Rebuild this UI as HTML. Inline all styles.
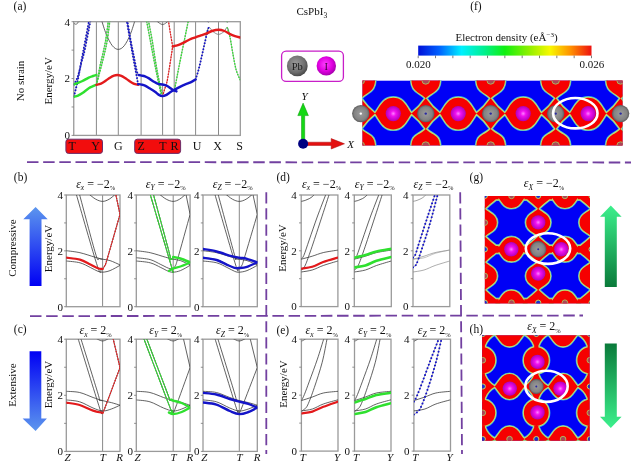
<!DOCTYPE html>
<html><head><meta charset="utf-8"><title>CsPbI3 strain band structure</title>
<style>html,body{margin:0;padding:0;background:#fff;width:640px;height:465px;overflow:hidden}svg{display:block}</style>
</head><body>
<svg width="640" height="465" viewBox="0 0 640 465" font-family="&quot;Liberation Serif&quot;, serif" fill="#111">
<rect width="640" height="465" fill="#fff"/>
<text x="13.6" y="9.9" font-size="11.5" text-anchor="start"  >(a)</text>
<text transform="translate(24.3 81) rotate(-90)" font-size="11" text-anchor="middle">No strain</text>
<text transform="translate(51.8 80.8) rotate(-90)" font-size="11" text-anchor="middle">Energy/eV</text>
<line x1="96.4" y1="21.7" x2="96.4" y2="135.4" stroke="#6a6a6a" stroke-width="0.8"/>
<line x1="118.3" y1="21.7" x2="118.3" y2="135.4" stroke="#6a6a6a" stroke-width="0.8"/>
<line x1="141.1" y1="21.7" x2="141.1" y2="135.4" stroke="#6a6a6a" stroke-width="0.8"/>
<line x1="162.6" y1="21.7" x2="162.6" y2="135.4" stroke="#6a6a6a" stroke-width="0.8"/>
<line x1="174.2" y1="21.7" x2="174.2" y2="135.4" stroke="#6a6a6a" stroke-width="0.8"/>
<line x1="195.6" y1="21.7" x2="195.6" y2="135.4" stroke="#6a6a6a" stroke-width="0.8"/>
<line x1="218.5" y1="21.7" x2="218.5" y2="135.4" stroke="#6a6a6a" stroke-width="0.8"/>
<rect x="73.75" y="21.7" width="166.55" height="113.7" fill="none" stroke="#9a9a9a" stroke-width="1.3"/>
<line x1="71.55" y1="135.4" x2="73.75" y2="135.4" stroke="#777" stroke-width="0.8"/>
<line x1="71.55" y1="106.98" x2="73.75" y2="106.98" stroke="#777" stroke-width="0.8"/>
<line x1="71.55" y1="78.55" x2="73.75" y2="78.55" stroke="#777" stroke-width="0.8"/>
<line x1="71.55" y1="50.12" x2="73.75" y2="50.12" stroke="#777" stroke-width="0.8"/>
<line x1="71.55" y1="21.7" x2="73.75" y2="21.7" stroke="#777" stroke-width="0.8"/>
<text x="70" y="139.2" font-size="11" text-anchor="end"  >0</text>
<text x="70" y="82.35" font-size="11" text-anchor="end"  >2</text>
<text x="70" y="25.5" font-size="11" text-anchor="end"  >4</text>
<clipPath id="ca"><rect x="73.75" y="21.7" width="166.55" height="113.7"/></clipPath>
<g clip-path="url(#ca)">
<path d="M73.75 23.2C74.16 23.37 75.24 24.57 76.2 24.2C77.16 23.83 78.95 21.53 79.5 21" fill="none" stroke="#3a3a3a" stroke-width="0.7" />
<path d="M156.6 21C157.6 21.6 160.63 24.6 162.6 24.6C164.57 24.6 167.43 21.6 168.4 21" fill="none" stroke="#3a3a3a" stroke-width="0.7" />
<path d="M101.3 19.34C102.13 21.86 104.47 30.04 106.3 34.42C108.13 38.81 110.3 43.16 112.3 45.66C114.3 48.15 116.3 49.4 118.3 49.4C120.3 49.4 122.3 48.15 124.3 45.66C126.3 43.16 128.47 38.81 130.3 34.42C132.13 30.04 134.47 21.86 135.3 19.34" fill="none" stroke="#3a3a3a" stroke-width="0.8" />
<path d="M205.5 36.5C206.03 34.98 207.45 28.22 208.7 27.4C209.95 26.58 211.37 30.43 213 31.6C214.63 32.77 216.67 34.4 218.5 34.4C220.33 34.4 222.55 32.77 224 31.6C225.45 30.43 226.28 27 227.2 27.4C228.12 27.8 229.12 32.9 229.5 34" fill="none" stroke="#707070" stroke-width="0.8" />
<path d="M73.9 96.3C74.42 94.25 75.93 88.88 77 84C78.07 79.12 79.22 72.67 80.3 67C81.38 61.33 82.03 57.75 83.5 50C84.97 42.25 88.17 25.42 89.1 20.5" fill="none" stroke="#888" stroke-width="0.7" />
<path d="M73.9 96.3C74.42 94.25 75.93 88.88 77 84C78.07 79.12 79.22 72.67 80.3 67C81.38 61.33 82.03 57.75 83.5 50C84.97 42.25 88.17 25.42 89.1 20.5" fill="none" stroke="#1414c8" stroke-width="2.0" stroke-linecap="round" stroke-dasharray="0.01 3.1"/>
<path d="M73.9 84.4C74.28 83.75 75.45 82.15 76.2 80.5C76.95 78.85 77.52 77.58 78.4 74.5C79.28 71.42 80.45 66.08 81.5 62C82.55 57.92 83.2 56.92 84.7 50C86.2 43.08 89.53 25.42 90.5 20.5" fill="none" stroke="#888" stroke-width="0.7" />
<path d="M73.9 84.4C74.28 83.75 75.45 82.15 76.2 80.5C76.95 78.85 77.52 77.58 78.4 74.5C79.28 71.42 80.45 66.08 81.5 62C82.55 57.92 83.2 56.92 84.7 50C86.2 43.08 89.53 25.42 90.5 20.5" fill="none" stroke="#1414c8" stroke-width="2.0" stroke-linecap="round" stroke-dasharray="0.01 3.1"/>
<path d="M96.4 85C96.83 83.33 98.08 78.5 99 75C99.92 71.5 100.97 67.67 101.9 64C102.83 60.33 103.7 57 104.6 53C105.5 49 106.42 45.42 107.3 40C108.18 34.58 109.47 23.75 109.9 20.5" fill="none" stroke="#888" stroke-width="0.7" />
<path d="M96.4 85C96.83 83.33 98.08 78.5 99 75C99.92 71.5 100.97 67.67 101.9 64C102.83 60.33 103.7 57 104.6 53C105.5 49 106.42 45.42 107.3 40C108.18 34.58 109.47 23.75 109.9 20.5" fill="none" stroke="#2fe02f" stroke-width="1.4" stroke-dasharray="1.6 1.2"/>
<path d="M96.4 85C96.68 83.5 97.43 79.5 98.1 76C98.77 72.5 99.58 67.83 100.4 64C101.22 60.17 102.12 57 103 53C103.88 49 104.8 45.42 105.7 40C106.6 34.58 107.95 23.75 108.4 20.5" fill="none" stroke="#888" stroke-width="0.7" />
<path d="M96.4 85C96.68 83.5 97.43 79.5 98.1 76C98.77 72.5 99.58 67.83 100.4 64C101.22 60.17 102.12 57 103 53C103.88 49 104.8 45.42 105.7 40C106.6 34.58 107.95 23.75 108.4 20.5" fill="none" stroke="#2fe02f" stroke-width="1.4" stroke-dasharray="1.6 1.2"/>
<path d="M138.1 84.1C137.42 80.42 135.33 69.35 134 62C132.67 54.65 131.3 46.92 130.1 40C128.9 33.08 127.35 23.75 126.8 20.5" fill="none" stroke="#888" stroke-width="0.7" />
<path d="M138.1 84.1C137.42 80.42 135.33 69.35 134 62C132.67 54.65 131.3 46.92 130.1 40C128.9 33.08 127.35 23.75 126.8 20.5" fill="none" stroke="#1414c8" stroke-width="2.0" stroke-linecap="round" stroke-dasharray="0.01 3.1"/>
<path d="M138.7 75C138.43 74.55 137.92 75.47 137.1 72.3C136.28 69.13 134.88 61.38 133.8 56C132.72 50.62 131.67 45.75 130.6 40C129.53 34.25 127.97 24.75 127.4 21.5C126.83 18.25 127.23 20.67 127.2 20.5" fill="none" stroke="#888" stroke-width="0.7" />
<path d="M138.7 75C138.43 74.55 137.92 75.47 137.1 72.3C136.28 69.13 134.88 61.38 133.8 56C132.72 50.62 131.67 45.75 130.6 40C129.53 34.25 127.97 24.75 127.4 21.5C126.83 18.25 127.23 20.67 127.2 20.5" fill="none" stroke="#1414c8" stroke-width="2.0" stroke-linecap="round" stroke-dasharray="0.01 3.1"/>
<path d="M162.4 96.2C161.5 91.83 158.72 79.37 157 70C155.28 60.63 153.53 48.25 152.1 40C150.67 31.75 149.02 23.75 148.4 20.5" fill="none" stroke="#888" stroke-width="0.7" />
<path d="M162.4 96.2C161.5 91.83 158.72 79.37 157 70C155.28 60.63 153.53 48.25 152.1 40C150.67 31.75 149.02 23.75 148.4 20.5" fill="none" stroke="#2fe02f" stroke-width="1.4" stroke-dasharray="1.6 1.2"/>
<path d="M161.1 94.2C160.17 89.83 157.32 77.03 155.5 68C153.68 58.97 151.7 47.92 150.2 40C148.7 32.08 147.12 23.75 146.5 20.5" fill="none" stroke="#888" stroke-width="0.7" />
<path d="M161.1 94.2C160.17 89.83 157.32 77.03 155.5 68C153.68 58.97 151.7 47.92 150.2 40C148.7 32.08 147.12 23.75 146.5 20.5" fill="none" stroke="#2fe02f" stroke-width="1.4" stroke-dasharray="1.6 1.2"/>
<path d="M162.4 96.6C162.83 95.17 164.13 90.98 165 88C165.87 85.02 166.32 85.62 167.6 78.7C168.88 71.78 171.85 51.87 172.7 46.5" fill="none" stroke="#b55" stroke-width="0.6" />
<path d="M162.4 96.6C162.83 95.17 164.13 90.98 165 88C165.87 85.02 166.32 85.62 167.6 78.7C168.88 71.78 171.85 51.87 172.7 46.5" fill="none" stroke="#e31a1c" stroke-width="1.2" stroke-dasharray="1.8 1"/>
<path d="M172.7 46.5C172.33 44.42 171.22 38.33 170.5 34C169.78 29.67 168.75 22.75 168.4 20.5" fill="none" stroke="#b55" stroke-width="0.6" />
<path d="M172.7 46.5C172.33 44.42 171.22 38.33 170.5 34C169.78 29.67 168.75 22.75 168.4 20.5" fill="none" stroke="#e31a1c" stroke-width="1.2" stroke-dasharray="1.8 1"/>
<path d="M174.7 89C175.5 84.83 177.88 72.17 179.5 64C181.12 55.83 182.92 47.25 184.4 40C185.88 32.75 187.73 23.75 188.4 20.5" fill="none" stroke="#888" stroke-width="0.7" />
<path d="M174.7 89C175.5 84.83 177.88 72.17 179.5 64C181.12 55.83 182.92 47.25 184.4 40C185.88 32.75 187.73 23.75 188.4 20.5" fill="none" stroke="#2fe02f" stroke-width="1.4" stroke-dasharray="1.6 1.2"/>
<path d="M195.6 79.4C196.08 77.83 197.52 73.65 198.5 70C199.48 66.35 200.5 61.83 201.5 57.5C202.5 53.17 203.55 48.17 204.5 44C205.45 39.83 206.5 35.27 207.2 32.5C207.9 29.73 208.45 28.25 208.7 27.4" fill="none" stroke="#888" stroke-width="0.7" />
<path d="M195.6 79.4C196.08 77.83 197.52 73.65 198.5 70C199.48 66.35 200.5 61.83 201.5 57.5C202.5 53.17 203.55 48.17 204.5 44C205.45 39.83 206.5 35.27 207.2 32.5C207.9 29.73 208.45 28.25 208.7 27.4" fill="none" stroke="#1414c8" stroke-width="2.0" stroke-linecap="round" stroke-dasharray="0.01 3.1"/>
<path d="M227.2 27.4C227.67 29.03 229.03 32.7 230 37.2C230.97 41.7 231.97 48.93 233 54.4C234.03 59.87 234.98 65.7 236.2 70C237.42 74.3 239.62 78.5 240.3 80.2" fill="none" stroke="#888" stroke-width="0.7" />
<path d="M227.2 27.4C227.67 29.03 229.03 32.7 230 37.2C230.97 41.7 231.97 48.93 233 54.4C234.03 59.87 234.98 65.7 236.2 70C237.42 74.3 239.62 78.5 240.3 80.2" fill="none" stroke="#2fe02f" stroke-width="1.4" stroke-dasharray="1.6 1.2"/>
<path d="M207.6 20.5L208.6 23" fill="none" stroke="#888" stroke-width="0.7" />
<path d="M207.6 20.5L208.6 23" fill="none" stroke="#1414c8" stroke-width="2.0" stroke-linecap="round" stroke-dasharray="0.01 3.1"/>
<path d="M226.6 20.5L227.6 23" fill="none" stroke="#888" stroke-width="0.7" />
<path d="M226.6 20.5L227.6 23" fill="none" stroke="#2fe02f" stroke-width="1.4" stroke-dasharray="1.6 1.2"/>
<path d="M73.75 84.4C74.46 84.15 76.54 83.47 78 82.9C79.46 82.33 80.71 81.88 82.5 81C84.29 80.12 87 78.43 88.75 77.6C90.5 76.77 91.72 76.45 93 76C94.28 75.55 95.83 75.08 96.4 74.9" fill="none" stroke="#2fe02f" stroke-width="2.4" stroke-linecap="round"/>
<path d="M73.75 96.9C74.46 96.68 76.54 96.23 78 95.6C79.46 94.97 80.71 94.32 82.5 93.1C84.29 91.88 87 89.45 88.75 88.3C90.5 87.15 91.72 86.79 93 86.2C94.28 85.61 95.83 84.99 96.4 84.75" fill="none" stroke="#2fe02f" stroke-width="2.4" stroke-linecap="round"/>
<path d="M96.4 84.8C97.17 84.61 99.4 84.39 101 83.67C102.6 82.96 104.5 81.53 106 80.52C107.5 79.52 108.67 78.49 110 77.67C111.33 76.84 112.78 76.03 114 75.59C115.22 75.15 116.2 75 117.3 75C118.4 75 119.38 75.15 120.6 75.59C121.82 76.03 123.27 76.84 124.6 77.67C125.93 78.49 127.1 79.52 128.6 80.52C130.1 81.53 132 82.96 133.6 83.67C135.2 84.39 137.43 84.61 138.2 84.8" fill="none" stroke="#e31a1c" stroke-width="2.4" stroke-linecap="round"/>
<path d="M138.7 75C139.17 75.1 140.45 75.37 141.5 75.6C142.55 75.83 143.75 75.93 145 76.4C146.25 76.87 147.5 77.5 149 78.4C150.5 79.3 152.5 80.88 154 81.8C155.5 82.72 156.6 83.45 158 83.9C159.4 84.35 160.9 84.18 162.4 84.5C163.9 84.82 165.65 85.18 167 85.8C168.35 86.42 169.42 87.45 170.5 88.2C171.58 88.95 172.5 89.77 173.5 90.3C174.5 90.83 176 91.22 176.5 91.4" fill="none" stroke="#1414c8" stroke-width="2.4" stroke-linecap="round"/>
<path d="M138.1 84.1C138.67 84.18 140.35 84.35 141.5 84.6C142.65 84.85 143.58 84.93 145 85.6C146.42 86.27 148.33 87.57 150 88.6C151.67 89.63 153.58 90.8 155 91.8C156.42 92.8 157.27 93.88 158.5 94.6C159.73 95.32 161.15 96 162.4 96.1C163.65 96.2 164.82 95.75 166 95.2C167.18 94.65 168.25 93.62 169.5 92.8C170.75 91.98 172 91.17 173.5 90.3C175 89.43 176.92 88.42 178.5 87.6C180.08 86.78 181.42 86.1 183 85.4C184.58 84.7 186.5 84.03 188 83.4C189.5 82.77 190.73 82.27 192 81.6C193.27 80.93 195 79.77 195.6 79.4" fill="none" stroke="#1414c8" stroke-width="2.4" stroke-linecap="round"/>
<path d="M172.7 46.5C173.25 46.35 174.78 45.95 176 45.6C177.22 45.25 178.33 45.1 180 44.4C181.67 43.7 184.17 42.32 186 41.4C187.83 40.48 189.4 39.58 191 38.9C192.6 38.22 193.93 37.9 195.6 37.3C197.27 36.7 199.15 35.95 201 35.3C202.85 34.65 204.87 34.12 206.7 33.4C208.53 32.68 210.03 31.62 212 31C213.97 30.38 216.42 29.7 218.5 29.7C220.58 29.7 222.67 30.3 224.5 31C226.33 31.7 227.75 33.03 229.5 33.9C231.25 34.77 233.2 35.6 235 36.2C236.8 36.8 239.42 37.28 240.3 37.5" fill="none" stroke="#e31a1c" stroke-width="2.4" stroke-linecap="round"/>
</g>
<rect x="65.9" y="139.2" width="36.6" height="14.2" rx="2.6" fill="#f20d0d" stroke="#6b2d6b" stroke-width="1"/>
<rect x="134.7" y="139.2" width="45.9" height="14.2" rx="2.6" fill="#f20d0d" stroke="#6b2d6b" stroke-width="1"/>
<text x="72.2" y="149.9" font-size="12" text-anchor="middle"  >T</text>
<text x="95.6" y="149.9" font-size="12" text-anchor="middle"  >Y</text>
<text x="118.3" y="149.9" font-size="12" text-anchor="middle"  >G</text>
<text x="141.2" y="149.9" font-size="12" text-anchor="middle"  >Z</text>
<text x="162.8" y="149.9" font-size="12" text-anchor="middle"  >T</text>
<text x="174.4" y="149.9" font-size="12" text-anchor="middle"  >R</text>
<text x="197" y="149.9" font-size="12" text-anchor="middle"  >U</text>
<text x="217.5" y="149.9" font-size="12" text-anchor="middle"  >X</text>
<text x="239.7" y="149.9" font-size="12" text-anchor="middle"  >S</text>
<text x="296.5" y="15.4" font-size="11" text-anchor="start"  >CsPbI<tspan font-size="7.5" dy="2.5">3</tspan></text>
<defs><radialGradient id="gpb" cx="0.42" cy="0.38" r="0.62"><stop offset="0" stop-color="#9a9a9a"/><stop offset="0.7" stop-color="#6e6e6e"/><stop offset="1" stop-color="#4a4a4a"/></radialGradient><radialGradient id="gi" cx="0.45" cy="0.42" r="0.6"><stop offset="0" stop-color="#ff40ff"/><stop offset="0.6" stop-color="#e000e0"/><stop offset="1" stop-color="#a000a8"/></radialGradient><radialGradient id="gpb2" cx="0.5" cy="0.5" r="0.5"><stop offset="0" stop-color="#9c9c9c"/><stop offset="0.75" stop-color="#828282"/><stop offset="1" stop-color="#5a5a5a"/></radialGradient><radialGradient id="gi2" cx="0.5" cy="0.5" r="0.5"><stop offset="0" stop-color="#ff80ff"/><stop offset="0.35" stop-color="#f010f0"/><stop offset="1" stop-color="#b000b8"/></radialGradient><linearGradient id="gcb" x1="0" y1="0" x2="1" y2="0"><stop offset="0" stop-color="#0010d8"/><stop offset="0.12" stop-color="#0060ff"/><stop offset="0.25" stop-color="#00f0ff"/><stop offset="0.38" stop-color="#00f090"/><stop offset="0.5" stop-color="#10f010"/><stop offset="0.64" stop-color="#90f000"/><stop offset="0.76" stop-color="#f8f800"/><stop offset="0.88" stop-color="#ff9000"/><stop offset="1" stop-color="#ee1010"/></linearGradient><linearGradient id="gup" x1="0" y1="1" x2="0" y2="0"><stop offset="0" stop-color="#0000f4"/><stop offset="1" stop-color="#5c96ee"/></linearGradient><linearGradient id="gdn" x1="0" y1="0" x2="0" y2="1"><stop offset="0" stop-color="#0000f4"/><stop offset="1" stop-color="#5c96ee"/></linearGradient><linearGradient id="ggu" x1="0" y1="1" x2="0" y2="0"><stop offset="0" stop-color="#0a7a3a"/><stop offset="1" stop-color="#3cf08c"/></linearGradient><linearGradient id="ggd" x1="0" y1="0" x2="0" y2="1"><stop offset="0" stop-color="#0a7a3a"/><stop offset="1" stop-color="#3cf08c"/></linearGradient></defs>
<rect x="281.6" y="51.1" width="61.8" height="30.3" rx="4.5" fill="none" stroke="#c81ec8" stroke-width="1.3"/>
<circle cx="297.3" cy="65.9" r="10.4" fill="url(#gpb)"/>
<text x="297.3" y="69.6" font-size="10.5" text-anchor="middle"  fill="#1a1a1a">Pb</text>
<circle cx="326.3" cy="65.9" r="9.7" fill="url(#gi)"/>
<text x="326.3" y="69.6" font-size="10.5" text-anchor="middle"  fill="#3a003a">I</text>
<path d="M301.5 143V115.6H297.8L303.1 103.1L308.4 115.6H304.7V143Z" fill="#14d814" stroke="#0a960a" stroke-width="0.5"/>
<path d="M304 142.2H331.2V138.6L344.5 143.8L331.2 149V145.4H304Z" fill="#e41010" stroke="#a80808" stroke-width="0.5"/>
<circle cx="303.1" cy="143.8" r="5" fill="#000080"/>
<text x="304.5" y="100" font-size="11" text-anchor="middle" font-style="italic" >Y</text>
<text x="350.7" y="147.6" font-size="11" text-anchor="middle" font-style="italic" >X</text>
<text x="470.2" y="10.2" font-size="11.5" text-anchor="start"  >(f)</text>
<text x="506.5" y="41.2" font-size="11" text-anchor="middle"  >Electron density (eÅ<tspan font-size="7" dy="-4">−3</tspan><tspan dy="4">)</tspan></text>
<rect x="418.2" y="45.6" width="173.3" height="10" fill="url(#gcb)"/>
<line x1="418.2" y1="55.6" x2="418.2" y2="58.2" stroke="#444" stroke-width="0.7"/>
<line x1="435.53" y1="55.6" x2="435.53" y2="58.2" stroke="#444" stroke-width="0.7"/>
<line x1="452.86" y1="55.6" x2="452.86" y2="58.2" stroke="#444" stroke-width="0.7"/>
<line x1="470.19" y1="55.6" x2="470.19" y2="58.2" stroke="#444" stroke-width="0.7"/>
<line x1="487.52" y1="55.6" x2="487.52" y2="58.2" stroke="#444" stroke-width="0.7"/>
<line x1="504.85" y1="55.6" x2="504.85" y2="58.2" stroke="#444" stroke-width="0.7"/>
<line x1="522.18" y1="55.6" x2="522.18" y2="58.2" stroke="#444" stroke-width="0.7"/>
<line x1="539.51" y1="55.6" x2="539.51" y2="58.2" stroke="#444" stroke-width="0.7"/>
<line x1="556.84" y1="55.6" x2="556.84" y2="58.2" stroke="#444" stroke-width="0.7"/>
<line x1="574.17" y1="55.6" x2="574.17" y2="58.2" stroke="#444" stroke-width="0.7"/>
<line x1="591.5" y1="55.6" x2="591.5" y2="58.2" stroke="#444" stroke-width="0.7"/>
<text x="418.3" y="68.4" font-size="11" text-anchor="middle"  >0.020</text>
<text x="591.8" y="68.4" font-size="11" text-anchor="middle"  >0.026</text>
<clipPath id="cf"><rect x="362.4" y="80.4" width="260.2" height="65.2"/></clipPath>
<g clip-path="url(#cf)">
<rect x="362.4" y="80.4" width="260.2" height="65.2" fill="#0000f6"/>
<path d="M309.93 113.6C313.93 109.6 316.83 97.8 328.33 97.8C339.83 97.8 342.73 109.6 346.73 113.6C342.73 117.6 339.83 129.4 328.33 129.4C316.83 129.4 313.93 117.6 309.93 113.6ZM374.87 113.6C378.87 109.6 381.77 97.8 393.27 97.8C404.77 97.8 407.67 109.6 411.67 113.6C407.67 117.6 404.77 129.4 393.27 129.4C381.77 129.4 378.87 117.6 374.87 113.6ZM439.82 113.6C443.82 109.6 446.72 97.8 458.22 97.8C469.72 97.8 472.62 109.6 476.62 113.6C472.62 117.6 469.72 129.4 458.22 129.4C446.72 129.4 443.82 117.6 439.82 113.6ZM504.77 113.6C508.77 109.6 511.67 97.8 523.17 97.8C534.67 97.8 537.57 109.6 541.57 113.6C537.57 117.6 534.67 129.4 523.17 129.4C511.67 129.4 508.77 117.6 504.77 113.6ZM569.72 113.6C573.72 109.6 576.62 97.8 588.12 97.8C599.62 97.8 602.52 109.6 606.52 113.6C602.52 117.6 599.62 129.4 588.12 129.4C576.62 129.4 573.72 117.6 569.72 113.6ZM346.5 113.6Q354.79 107.13 360.8 98.2L360.8 98.2Q366.81 107.13 375.1 113.6L375.1 113.6Q366.81 120.07 360.8 129L360.8 129Q354.79 120.07 346.5 113.6L346.5 113.6ZM346.4 77.4L375.2 77.4C375.2 92.4 368.3 90.8 360.8 98.3C353.3 90.8 346.4 92.4 346.4 77.4ZM375.2 148.6L346.4 148.6C346.4 133.6 353.3 136.4 360.8 128.9C368.3 136.4 375.2 133.6 375.2 148.6ZM411.45 113.6Q419.74 107.13 425.75 98.2L425.75 98.2Q431.76 107.13 440.05 113.6L440.05 113.6Q431.76 120.07 425.75 129L425.75 129Q419.74 120.07 411.45 113.6L411.45 113.6ZM411.35 77.4L440.15 77.4C440.15 92.4 433.25 90.8 425.75 98.3C418.25 90.8 411.35 92.4 411.35 77.4ZM440.15 148.6L411.35 148.6C411.35 133.6 418.25 136.4 425.75 128.9C433.25 136.4 440.15 133.6 440.15 148.6ZM476.4 113.6Q484.69 107.13 490.7 98.2L490.7 98.2Q496.71 107.13 505 113.6L505 113.6Q496.71 120.07 490.7 129L490.7 129Q484.69 120.07 476.4 113.6L476.4 113.6ZM476.3 77.4L505.1 77.4C505.1 92.4 498.2 90.8 490.7 98.3C483.2 90.8 476.3 92.4 476.3 77.4ZM505.1 148.6L476.3 148.6C476.3 133.6 483.2 136.4 490.7 128.9C498.2 136.4 505.1 133.6 505.1 148.6ZM541.35 113.6Q549.64 107.13 555.65 98.2L555.65 98.2Q561.66 107.13 569.95 113.6L569.95 113.6Q561.66 120.07 555.65 129L555.65 129Q549.64 120.07 541.35 113.6L541.35 113.6ZM541.25 77.4L570.05 77.4C570.05 92.4 563.15 90.8 555.65 98.3C548.15 90.8 541.25 92.4 541.25 77.4ZM570.05 148.6L541.25 148.6C541.25 133.6 548.15 136.4 555.65 128.9C563.15 136.4 570.05 133.6 570.05 148.6ZM606.3 113.6Q614.59 107.13 620.6 98.2L620.6 98.2Q626.61 107.13 634.9 113.6L634.9 113.6Q626.61 120.07 620.6 129L620.6 129Q614.59 120.07 606.3 113.6L606.3 113.6ZM606.2 77.4L635 77.4C635 92.4 628.1 90.8 620.6 98.3C613.1 90.8 606.2 92.4 606.2 77.4ZM635 148.6L606.2 148.6C606.2 133.6 613.1 136.4 620.6 128.9C628.1 136.4 635 133.6 635 148.6Z" fill="none" stroke="#3aa8e8" stroke-width="3.4" stroke-linejoin="round"/>
<path d="M309.93 113.6C313.93 109.6 316.83 97.8 328.33 97.8C339.83 97.8 342.73 109.6 346.73 113.6C342.73 117.6 339.83 129.4 328.33 129.4C316.83 129.4 313.93 117.6 309.93 113.6ZM374.87 113.6C378.87 109.6 381.77 97.8 393.27 97.8C404.77 97.8 407.67 109.6 411.67 113.6C407.67 117.6 404.77 129.4 393.27 129.4C381.77 129.4 378.87 117.6 374.87 113.6ZM439.82 113.6C443.82 109.6 446.72 97.8 458.22 97.8C469.72 97.8 472.62 109.6 476.62 113.6C472.62 117.6 469.72 129.4 458.22 129.4C446.72 129.4 443.82 117.6 439.82 113.6ZM504.77 113.6C508.77 109.6 511.67 97.8 523.17 97.8C534.67 97.8 537.57 109.6 541.57 113.6C537.57 117.6 534.67 129.4 523.17 129.4C511.67 129.4 508.77 117.6 504.77 113.6ZM569.72 113.6C573.72 109.6 576.62 97.8 588.12 97.8C599.62 97.8 602.52 109.6 606.52 113.6C602.52 117.6 599.62 129.4 588.12 129.4C576.62 129.4 573.72 117.6 569.72 113.6ZM346.5 113.6Q354.79 107.13 360.8 98.2L360.8 98.2Q366.81 107.13 375.1 113.6L375.1 113.6Q366.81 120.07 360.8 129L360.8 129Q354.79 120.07 346.5 113.6L346.5 113.6ZM346.4 77.4L375.2 77.4C375.2 92.4 368.3 90.8 360.8 98.3C353.3 90.8 346.4 92.4 346.4 77.4ZM375.2 148.6L346.4 148.6C346.4 133.6 353.3 136.4 360.8 128.9C368.3 136.4 375.2 133.6 375.2 148.6ZM411.45 113.6Q419.74 107.13 425.75 98.2L425.75 98.2Q431.76 107.13 440.05 113.6L440.05 113.6Q431.76 120.07 425.75 129L425.75 129Q419.74 120.07 411.45 113.6L411.45 113.6ZM411.35 77.4L440.15 77.4C440.15 92.4 433.25 90.8 425.75 98.3C418.25 90.8 411.35 92.4 411.35 77.4ZM440.15 148.6L411.35 148.6C411.35 133.6 418.25 136.4 425.75 128.9C433.25 136.4 440.15 133.6 440.15 148.6ZM476.4 113.6Q484.69 107.13 490.7 98.2L490.7 98.2Q496.71 107.13 505 113.6L505 113.6Q496.71 120.07 490.7 129L490.7 129Q484.69 120.07 476.4 113.6L476.4 113.6ZM476.3 77.4L505.1 77.4C505.1 92.4 498.2 90.8 490.7 98.3C483.2 90.8 476.3 92.4 476.3 77.4ZM505.1 148.6L476.3 148.6C476.3 133.6 483.2 136.4 490.7 128.9C498.2 136.4 505.1 133.6 505.1 148.6ZM541.35 113.6Q549.64 107.13 555.65 98.2L555.65 98.2Q561.66 107.13 569.95 113.6L569.95 113.6Q561.66 120.07 555.65 129L555.65 129Q549.64 120.07 541.35 113.6L541.35 113.6ZM541.25 77.4L570.05 77.4C570.05 92.4 563.15 90.8 555.65 98.3C548.15 90.8 541.25 92.4 541.25 77.4ZM570.05 148.6L541.25 148.6C541.25 133.6 548.15 136.4 555.65 128.9C563.15 136.4 570.05 133.6 570.05 148.6ZM606.3 113.6Q614.59 107.13 620.6 98.2L620.6 98.2Q626.61 107.13 634.9 113.6L634.9 113.6Q626.61 120.07 620.6 129L620.6 129Q614.59 120.07 606.3 113.6L606.3 113.6ZM606.2 77.4L635 77.4C635 92.4 628.1 90.8 620.6 98.3C613.1 90.8 606.2 92.4 606.2 77.4ZM635 148.6L606.2 148.6C606.2 133.6 613.1 136.4 620.6 128.9C628.1 136.4 635 133.6 635 148.6Z" fill="none" stroke="#b8e070" stroke-width="2.2" stroke-linejoin="round"/>
<path d="M309.93 113.6C313.93 109.6 316.83 97.8 328.33 97.8C339.83 97.8 342.73 109.6 346.73 113.6C342.73 117.6 339.83 129.4 328.33 129.4C316.83 129.4 313.93 117.6 309.93 113.6ZM374.87 113.6C378.87 109.6 381.77 97.8 393.27 97.8C404.77 97.8 407.67 109.6 411.67 113.6C407.67 117.6 404.77 129.4 393.27 129.4C381.77 129.4 378.87 117.6 374.87 113.6ZM439.82 113.6C443.82 109.6 446.72 97.8 458.22 97.8C469.72 97.8 472.62 109.6 476.62 113.6C472.62 117.6 469.72 129.4 458.22 129.4C446.72 129.4 443.82 117.6 439.82 113.6ZM504.77 113.6C508.77 109.6 511.67 97.8 523.17 97.8C534.67 97.8 537.57 109.6 541.57 113.6C537.57 117.6 534.67 129.4 523.17 129.4C511.67 129.4 508.77 117.6 504.77 113.6ZM569.72 113.6C573.72 109.6 576.62 97.8 588.12 97.8C599.62 97.8 602.52 109.6 606.52 113.6C602.52 117.6 599.62 129.4 588.12 129.4C576.62 129.4 573.72 117.6 569.72 113.6ZM346.5 113.6Q354.79 107.13 360.8 98.2L360.8 98.2Q366.81 107.13 375.1 113.6L375.1 113.6Q366.81 120.07 360.8 129L360.8 129Q354.79 120.07 346.5 113.6L346.5 113.6ZM346.4 77.4L375.2 77.4C375.2 92.4 368.3 90.8 360.8 98.3C353.3 90.8 346.4 92.4 346.4 77.4ZM375.2 148.6L346.4 148.6C346.4 133.6 353.3 136.4 360.8 128.9C368.3 136.4 375.2 133.6 375.2 148.6ZM411.45 113.6Q419.74 107.13 425.75 98.2L425.75 98.2Q431.76 107.13 440.05 113.6L440.05 113.6Q431.76 120.07 425.75 129L425.75 129Q419.74 120.07 411.45 113.6L411.45 113.6ZM411.35 77.4L440.15 77.4C440.15 92.4 433.25 90.8 425.75 98.3C418.25 90.8 411.35 92.4 411.35 77.4ZM440.15 148.6L411.35 148.6C411.35 133.6 418.25 136.4 425.75 128.9C433.25 136.4 440.15 133.6 440.15 148.6ZM476.4 113.6Q484.69 107.13 490.7 98.2L490.7 98.2Q496.71 107.13 505 113.6L505 113.6Q496.71 120.07 490.7 129L490.7 129Q484.69 120.07 476.4 113.6L476.4 113.6ZM476.3 77.4L505.1 77.4C505.1 92.4 498.2 90.8 490.7 98.3C483.2 90.8 476.3 92.4 476.3 77.4ZM505.1 148.6L476.3 148.6C476.3 133.6 483.2 136.4 490.7 128.9C498.2 136.4 505.1 133.6 505.1 148.6ZM541.35 113.6Q549.64 107.13 555.65 98.2L555.65 98.2Q561.66 107.13 569.95 113.6L569.95 113.6Q561.66 120.07 555.65 129L555.65 129Q549.64 120.07 541.35 113.6L541.35 113.6ZM541.25 77.4L570.05 77.4C570.05 92.4 563.15 90.8 555.65 98.3C548.15 90.8 541.25 92.4 541.25 77.4ZM570.05 148.6L541.25 148.6C541.25 133.6 548.15 136.4 555.65 128.9C563.15 136.4 570.05 133.6 570.05 148.6ZM606.3 113.6Q614.59 107.13 620.6 98.2L620.6 98.2Q626.61 107.13 634.9 113.6L634.9 113.6Q626.61 120.07 620.6 129L620.6 129Q614.59 120.07 606.3 113.6L606.3 113.6ZM606.2 77.4L635 77.4C635 92.4 628.1 90.8 620.6 98.3C613.1 90.8 606.2 92.4 606.2 77.4ZM635 148.6L606.2 148.6C606.2 133.6 613.1 136.4 620.6 128.9C628.1 136.4 635 133.6 635 148.6Z" fill="#f60000"/>
<circle cx="360.8" cy="80.4" r="3.8" fill="#a84858" stroke="#b0c060" stroke-width="0.9"/>
<circle cx="425.75" cy="80.4" r="3.8" fill="#a84858" stroke="#b0c060" stroke-width="0.9"/>
<circle cx="490.7" cy="80.4" r="3.8" fill="#a84858" stroke="#b0c060" stroke-width="0.9"/>
<circle cx="555.65" cy="80.4" r="3.8" fill="#a84858" stroke="#b0c060" stroke-width="0.9"/>
<circle cx="620.6" cy="80.4" r="3.8" fill="#a84858" stroke="#b0c060" stroke-width="0.9"/>
<circle cx="360.8" cy="145.6" r="3.8" fill="#a84858" stroke="#b0c060" stroke-width="0.9"/>
<circle cx="425.75" cy="145.6" r="3.8" fill="#a84858" stroke="#b0c060" stroke-width="0.9"/>
<circle cx="490.7" cy="145.6" r="3.8" fill="#a84858" stroke="#b0c060" stroke-width="0.9"/>
<circle cx="555.65" cy="145.6" r="3.8" fill="#a84858" stroke="#b0c060" stroke-width="0.9"/>
<circle cx="620.6" cy="145.6" r="3.8" fill="#a84858" stroke="#b0c060" stroke-width="0.9"/>
</g>
<circle cx="393.27" cy="113.6" r="7.6" fill="url(#gi2)"/>
<circle cx="458.22" cy="113.6" r="7.6" fill="url(#gi2)"/>
<circle cx="523.17" cy="113.6" r="7.6" fill="url(#gi2)"/>
<circle cx="588.12" cy="113.6" r="7.6" fill="url(#gi2)"/>
<circle cx="360.8" cy="113.6" r="8.7" fill="url(#gpb2)"/>
<circle cx="360.8" cy="113.6" r="1.2" fill="#fff"/>
<circle cx="425.75" cy="113.6" r="8.7" fill="url(#gpb2)"/>
<circle cx="425.75" cy="113.6" r="1.2" fill="#2a2aa0"/>
<circle cx="490.7" cy="113.6" r="8.7" fill="url(#gpb2)"/>
<circle cx="490.7" cy="113.6" r="1.2" fill="#2a2aa0"/>
<circle cx="555.65" cy="113.6" r="8.7" fill="url(#gpb2)"/>
<circle cx="555.65" cy="113.6" r="1.2" fill="#2a2aa0"/>
<circle cx="620.6" cy="113.6" r="8.7" fill="url(#gpb2)"/>
<circle cx="620.6" cy="113.6" r="1.2" fill="#2a2aa0"/>
<ellipse cx="575.3" cy="113.2" rx="22.2" ry="15.2" fill="none" stroke="#fff" stroke-width="2.6"/>
<line x1="27" y1="162.1" x2="631" y2="162.5" stroke="#7240a0" stroke-width="1.8" stroke-dasharray="11.5 4.66"/>
<line x1="30" y1="316.1" x2="583" y2="315.5" stroke="#7240a0" stroke-width="1.8" stroke-dasharray="11.5 4.66"/>
<line x1="266.3" y1="192.2" x2="266.3" y2="453.9" stroke="#7240a0" stroke-width="1.8" stroke-dasharray="11.2 4.92"/>
<line x1="460.2" y1="192.2" x2="462" y2="453.9" stroke="#7240a0" stroke-width="1.8" stroke-dasharray="11.2 4.92"/>
<text x="13.8" y="180.6" font-size="11.5" text-anchor="start"  >(b)</text>
<text x="13.8" y="333.2" font-size="11.5" text-anchor="start"  >(c)</text>
<text x="276.4" y="180.8" font-size="11.5" text-anchor="start"  >(d)</text>
<text x="276.4" y="333.6" font-size="11.5" text-anchor="start"  >(e)</text>
<text x="469.6" y="181.2" font-size="11.5" text-anchor="start"  >(g)</text>
<text x="469.6" y="333.4" font-size="11.5" text-anchor="start"  >(h)</text>
<text transform="translate(15.9 248) rotate(-90)" font-size="11" text-anchor="middle">Compressive</text>
<text transform="translate(15.9 385) rotate(-90)" font-size="11" text-anchor="middle">Extensive</text>
<text transform="translate(51.8 248.5) rotate(-90)" font-size="11" text-anchor="middle">Energy/eV</text>
<text transform="translate(51.8 384.5) rotate(-90)" font-size="11" text-anchor="middle">Energy/eV</text>
<text transform="translate(286.3 248) rotate(-90)" font-size="11" text-anchor="middle">Energy/eV</text>
<text transform="translate(286.8 384) rotate(-90)" font-size="11" text-anchor="middle">Energy/eV</text>
<path d="M29.6 286V219.2H23.3L35.6 206.9L47.7 219.2H41.5V286Z" fill="url(#gup)"/>
<path d="M29.6 351.3V418.4H22.6L35.6 431L46.9 418.4H41.3V351.3Z" fill="url(#gdn)"/>
<path d="M604.8 287V216.7H600L610.8 205.4L621.6 216.7H616.8V287Z" fill="url(#ggu)"/>
<path d="M604.8 343.4V416.7H600L610.8 428L621.6 416.7H616.8V343.4Z" fill="url(#ggd)"/>
<text x="95.65" y="187.6" font-size="12" text-anchor="middle"><tspan font-style="italic">ε</tspan><tspan font-size="7.5" font-style="italic" dy="2.5">x</tspan><tspan dy="-2.5"> = −2</tspan><tspan font-size="6.5" dy="2.5">%</tspan></text>
<text x="95.65" y="334.4" font-size="12" text-anchor="middle"><tspan font-style="italic">ε</tspan><tspan font-size="7.5" font-style="italic" dy="2.5">x</tspan><tspan dy="-2.5"> = 2</tspan><tspan font-size="6.5" dy="2.5">%</tspan></text>
<text x="165.7" y="187.6" font-size="12" text-anchor="middle"><tspan font-style="italic">ε</tspan><tspan font-size="7.5" font-style="italic" dy="2.5">Y</tspan><tspan dy="-2.5"> = −2</tspan><tspan font-size="6.5" dy="2.5">%</tspan></text>
<text x="165.7" y="334.4" font-size="12" text-anchor="middle"><tspan font-style="italic">ε</tspan><tspan font-size="7.5" font-style="italic" dy="2.5">Y</tspan><tspan dy="-2.5"> = 2</tspan><tspan font-size="6.5" dy="2.5">%</tspan></text>
<text x="232.65" y="187.6" font-size="12" text-anchor="middle"><tspan font-style="italic">ε</tspan><tspan font-size="7.5" font-style="italic" dy="2.5">Z</tspan><tspan dy="-2.5"> = −2</tspan><tspan font-size="6.5" dy="2.5">%</tspan></text>
<text x="232.65" y="334.4" font-size="12" text-anchor="middle"><tspan font-style="italic">ε</tspan><tspan font-size="7.5" font-style="italic" dy="2.5">Z</tspan><tspan dy="-2.5"> = 2</tspan><tspan font-size="6.5" dy="2.5">%</tspan></text>
<line x1="102.6" y1="195" x2="102.6" y2="306.7" stroke="#6a6a6a" stroke-width="0.8"/>
<rect x="66.3" y="195" width="53.7" height="111.7" fill="none" stroke="#9a9a9a" stroke-width="1.3"/>
<line x1="64.1" y1="306.7" x2="66.3" y2="306.7" stroke="#777" stroke-width="0.8"/>
<line x1="64.1" y1="278.77" x2="66.3" y2="278.77" stroke="#777" stroke-width="0.8"/>
<line x1="64.1" y1="250.85" x2="66.3" y2="250.85" stroke="#777" stroke-width="0.8"/>
<line x1="64.1" y1="222.93" x2="66.3" y2="222.93" stroke="#777" stroke-width="0.8"/>
<line x1="64.1" y1="195" x2="66.3" y2="195" stroke="#777" stroke-width="0.8"/>
<text x="62.9" y="310.5" font-size="11" text-anchor="end"  >0</text>
<text x="62.9" y="254.65" font-size="11" text-anchor="end"  >2</text>
<text x="62.9" y="198.8" font-size="11" text-anchor="end"  >4</text>
<clipPath id="cb0"><rect x="66.3" y="195" width="53.7" height="111.7"/></clipPath>
<g clip-path="url(#cb0)">
<path d="M88.79 194C89.95 194.87 93.44 197.97 95.75 199.2C98.05 200.43 100.36 201.4 102.6 201.4C104.84 201.4 107.01 200.43 109.19 199.2C111.37 197.97 114.6 194.87 115.68 194" fill="none" stroke="#3a3a3a" stroke-width="0.8" />
<path d="M76.2 194C79.74 206.03 93.23 253.72 97.43 266.2C101.63 278.68 100.54 268.4 101.4 268.9C102.26 269.4 102.4 269.15 102.6 269.2" fill="none" stroke="#3a3a3a" stroke-width="0.8" />
<path d="M79.4 194C82.11 204 92.38 243.27 95.66 254C98.94 264.73 97.94 257.53 99.1 258.4C100.26 259.27 102.02 259.07 102.6 259.2" fill="none" stroke="#3a3a3a" stroke-width="0.8" />
<path d="M66.3 250.7C68.58 251.03 75.17 251.62 79.95 252.7C84.74 253.78 91.22 256.12 95 257.2C98.77 258.28 100.09 258.63 102.6 259.2C105.11 259.77 107.16 259.65 110.06 260.6C112.96 261.55 118.34 264.18 120 264.9" fill="none" stroke="#3a3a3a" stroke-width="0.8" />
<path d="M66.3 261C68.58 261.3 75.94 261.72 79.95 262.8C83.97 263.88 87.4 266.08 90.39 267.5C93.38 268.92 95.85 270.52 97.89 271.3C99.92 272.08 100.57 272.32 102.6 272.2C104.63 272.08 107.16 271.73 110.06 270.6C112.96 269.47 118.34 266.27 120 265.4" fill="none" stroke="#3a3a3a" stroke-width="0.8" />
<path d="M66.3 257.7C68.58 258.02 75.94 258.47 79.95 259.6C83.97 260.73 87.4 263.07 90.39 264.5C93.38 265.93 95.85 267.45 97.89 268.2C99.92 268.95 101.81 268.87 102.6 269" fill="none" stroke="#3a3a3a" stroke-width="0.8" />
<path d="M102.6 269C102.98 268.42 104.13 267.08 104.87 265.5C105.61 263.92 104.51 268.02 107.03 259.5C109.55 250.98 117.84 221.92 120 214.4" fill="none" stroke="#3a3a3a" stroke-width="0.8" />
<path d="M120 214.4L115.68 194" fill="none" stroke="#3a3a3a" stroke-width="0.8" />
<path d="M66.3 257.7C68.58 258.02 75.94 258.47 79.95 259.6C83.97 260.73 87.4 263.07 90.39 264.5C93.38 265.93 95.85 267.45 97.89 268.2C99.92 268.95 101.81 268.87 102.6 269" fill="none" stroke="#e31a1c" stroke-width="2.2" stroke-linecap="round"/>
<path d="M102.6 269C102.98 268.42 104.13 267.08 104.87 265.5C105.61 263.92 104.51 268.02 107.03 259.5C109.55 250.98 117.84 221.92 120 214.4" fill="none" stroke="#c66" stroke-width="0.6" />
<path d="M102.6 269C102.98 268.42 104.13 267.08 104.87 265.5C105.61 263.92 104.51 268.02 107.03 259.5C109.55 250.98 117.84 221.92 120 214.4" fill="none" stroke="#e31a1c" stroke-width="1.2" stroke-dasharray="1.6 1.0"/>
<path d="M120 214.4L115.68 194" fill="none" stroke="#c66" stroke-width="0.6" />
<path d="M120 214.4L115.68 194" fill="none" stroke="#e31a1c" stroke-width="1.2" stroke-dasharray="1.6 1.0"/>
</g>
<line x1="102.6" y1="339.2" x2="102.6" y2="451.4" stroke="#6a6a6a" stroke-width="0.8"/>
<rect x="66.3" y="339.2" width="53.7" height="112.2" fill="none" stroke="#9a9a9a" stroke-width="1.3"/>
<line x1="64.1" y1="451.4" x2="66.3" y2="451.4" stroke="#777" stroke-width="0.8"/>
<line x1="64.1" y1="423.35" x2="66.3" y2="423.35" stroke="#777" stroke-width="0.8"/>
<line x1="64.1" y1="395.3" x2="66.3" y2="395.3" stroke="#777" stroke-width="0.8"/>
<line x1="64.1" y1="367.25" x2="66.3" y2="367.25" stroke="#777" stroke-width="0.8"/>
<line x1="64.1" y1="339.2" x2="66.3" y2="339.2" stroke="#777" stroke-width="0.8"/>
<text x="62.9" y="455.2" font-size="11" text-anchor="end"  >0</text>
<text x="62.9" y="399.1" font-size="11" text-anchor="end"  >2</text>
<text x="62.9" y="343" font-size="11" text-anchor="end"  >4</text>
<clipPath id="cc0"><rect x="66.3" y="339.2" width="53.7" height="112.2"/></clipPath>
<g clip-path="url(#cc0)">
<path d="M95.75 338.2C96.89 338.67 100.36 341 102.6 341C104.84 341 108.09 338.67 109.19 338.2" fill="none" stroke="#3a3a3a" stroke-width="0.8" />
<path d="M77.9 338C81.52 349.67 95.68 395.88 99.6 408C103.52 420.12 100.9 410.2 101.4 410.7C101.9 411.2 102.4 410.95 102.6 411" fill="none" stroke="#3a3a3a" stroke-width="0.8" />
<path d="M80.7 338C83.59 347.33 94.99 383.7 98.06 394C101.13 404.3 98.34 398.7 99.1 399.8C99.86 400.9 102.02 400.47 102.6 400.6" fill="none" stroke="#3a3a3a" stroke-width="0.8" />
<path d="M66.3 391.3C68.53 391.5 75.22 391.47 79.68 392.5C84.15 393.53 89.25 396.15 93.07 397.5C96.89 398.85 99.55 399.75 102.6 400.6C105.65 401.45 108.45 401.83 111.35 402.6C114.25 403.37 118.56 404.77 120 405.2" fill="none" stroke="#3a3a3a" stroke-width="0.8" />
<path d="M66.3 399.9C68.53 400.22 75.22 400.45 79.68 401.8C84.15 403.15 89.25 406.47 93.07 408C96.89 409.53 99.55 410.83 102.6 411C105.65 411.17 108.45 409.97 111.35 409C114.25 408.03 118.56 405.83 120 405.2" fill="none" stroke="#3a3a3a" stroke-width="0.8" />
<path d="M102.6 412.8C102.98 412 101.97 415.53 104.87 408C107.77 400.47 117.48 374.33 120 367.6" fill="none" stroke="#3a3a3a" stroke-width="0.8" />
<path d="M120 367.6L112.98 338" fill="none" stroke="#3a3a3a" stroke-width="0.8" />
<path d="M66.3 402.6C68.53 403 75.22 403.67 79.68 405C84.15 406.33 89.25 409.3 93.07 410.6C96.89 411.9 101.01 412.43 102.6 412.8" fill="none" stroke="#e31a1c" stroke-width="2.2" stroke-linecap="round"/>
<path d="M102.6 412.8C102.98 412 101.97 415.53 104.87 408C107.77 400.47 117.48 374.33 120 367.6" fill="none" stroke="#c66" stroke-width="0.6" />
<path d="M102.6 412.8C102.98 412 101.97 415.53 104.87 408C107.77 400.47 117.48 374.33 120 367.6" fill="none" stroke="#e31a1c" stroke-width="1.2" stroke-dasharray="1.6 1.0"/>
<path d="M120 367.6L112.98 338" fill="none" stroke="#c66" stroke-width="0.6" />
<path d="M120 367.6L112.98 338" fill="none" stroke="#e31a1c" stroke-width="1.2" stroke-dasharray="1.6 1.0"/>
</g>
<line x1="173.2" y1="195" x2="173.2" y2="306.7" stroke="#6a6a6a" stroke-width="0.8"/>
<rect x="136.3" y="195" width="53.8" height="111.7" fill="none" stroke="#9a9a9a" stroke-width="1.3"/>
<line x1="134.1" y1="306.7" x2="136.3" y2="306.7" stroke="#777" stroke-width="0.8"/>
<line x1="134.1" y1="278.77" x2="136.3" y2="278.77" stroke="#777" stroke-width="0.8"/>
<line x1="134.1" y1="250.85" x2="136.3" y2="250.85" stroke="#777" stroke-width="0.8"/>
<line x1="134.1" y1="222.93" x2="136.3" y2="222.93" stroke="#777" stroke-width="0.8"/>
<line x1="134.1" y1="195" x2="136.3" y2="195" stroke="#777" stroke-width="0.8"/>
<text x="132.9" y="310.5" font-size="11" text-anchor="end"  >0</text>
<text x="132.9" y="254.65" font-size="11" text-anchor="end"  >2</text>
<text x="132.9" y="198.8" font-size="11" text-anchor="end"  >4</text>
<clipPath id="cb1"><rect x="136.3" y="195" width="53.8" height="111.7"/></clipPath>
<g clip-path="url(#cb1)">
<path d="M159.16 194C160.34 194.87 163.89 197.97 166.23 199.2C168.57 200.43 170.97 201.4 173.2 201.4C175.43 201.4 177.49 200.43 179.6 199.2C181.72 197.97 184.85 194.87 185.9 194" fill="none" stroke="#3a3a3a" stroke-width="0.8" />
<path d="M150.1 194C153.64 206.03 167.68 253.72 171.33 266.2C174.98 278.68 171.69 268.4 172 268.9C172.31 269.4 173 269.15 173.2 269.2" fill="none" stroke="#3a3a3a" stroke-width="0.8" />
<path d="M153.3 194C156.01 204 166.83 243.27 169.56 254C172.29 264.73 169.09 257.53 169.7 258.4C170.31 259.27 172.62 259.07 173.2 259.2" fill="none" stroke="#3a3a3a" stroke-width="0.8" />
<path d="M136.3 250.7C138.61 251.03 145.32 251.62 150.18 252.7C155.04 253.78 161.63 256.12 165.47 257.2C169.31 258.28 170.7 258.63 173.2 259.2C175.7 259.77 177.63 259.65 180.44 260.6C183.26 261.55 188.49 264.18 190.1 264.9" fill="none" stroke="#3a3a3a" stroke-width="0.8" />
<path d="M136.3 261C138.61 261.3 146.1 261.72 150.18 262.8C154.26 263.88 157.75 266.08 160.79 267.5C163.83 268.92 166.34 270.52 168.41 271.3C170.48 272.08 171.19 272.32 173.2 272.2C175.21 272.08 177.63 271.73 180.44 270.6C183.26 269.47 188.49 266.27 190.1 265.4" fill="none" stroke="#3a3a3a" stroke-width="0.8" />
<path d="M136.3 257.7C138.61 258.02 146.1 258.47 150.18 259.6C154.26 260.73 157.75 263.07 160.79 264.5C163.83 265.93 166.34 267.45 168.41 268.2C170.48 268.95 172.4 268.87 173.2 269" fill="none" stroke="#3a3a3a" stroke-width="0.8" />
<path d="M173.2 269C173.57 268.42 174.69 267.08 175.4 265.5C176.12 263.92 175.05 268.02 177.5 259.5C179.95 250.98 188 221.92 190.1 214.4" fill="none" stroke="#3a3a3a" stroke-width="0.8" />
<path d="M190.1 214.4L185.9 194" fill="none" stroke="#3a3a3a" stroke-width="0.8" />
<path d="M153.3 194C156.01 204 166.83 243.27 169.56 254C172.29 264.73 169.09 257.53 169.7 258.4C170.31 259.27 172.62 259.07 173.2 259.2" fill="none" stroke="#4a4" stroke-width="0.7" />
<path d="M153.3 194C156.01 204 166.83 243.27 169.56 254C172.29 264.73 169.09 257.53 169.7 258.4C170.31 259.27 172.62 259.07 173.2 259.2" fill="none" stroke="#2fe02f" stroke-width="1.1" stroke-dasharray="2.0 1.0"/>
<path d="M150.1 194C153.64 206.03 167.68 253.72 171.33 266.2C174.98 278.68 171.69 268.4 172 268.9C172.31 269.4 173 269.15 173.2 269.2" fill="none" stroke="#4a4" stroke-width="0.7" />
<path d="M150.1 194C153.64 206.03 167.68 253.72 171.33 266.2C174.98 278.68 171.69 268.4 172 268.9C172.31 269.4 173 269.15 173.2 269.2" fill="none" stroke="#2fe02f" stroke-width="1.1" stroke-dasharray="2.0 1.0"/>
<path d="M173.2 257C174.41 257.25 177.63 257.62 180.44 258.5C183.26 259.38 188.49 261.67 190.1 262.3" fill="none" stroke="#2fe02f" stroke-width="2.6" stroke-linecap="round"/>
<path d="M168.95 271C169.66 270.58 171.29 269.25 173.2 268.5C175.11 267.75 177.63 267.53 180.44 266.5C183.26 265.47 188.49 263 190.1 262.3" fill="none" stroke="#2fe02f" stroke-width="2.2" stroke-linecap="round"/>
</g>
<line x1="173.2" y1="339.2" x2="173.2" y2="451.4" stroke="#6a6a6a" stroke-width="0.8"/>
<rect x="136.3" y="339.2" width="53.8" height="112.2" fill="none" stroke="#9a9a9a" stroke-width="1.3"/>
<line x1="134.1" y1="451.4" x2="136.3" y2="451.4" stroke="#777" stroke-width="0.8"/>
<line x1="134.1" y1="423.35" x2="136.3" y2="423.35" stroke="#777" stroke-width="0.8"/>
<line x1="134.1" y1="395.3" x2="136.3" y2="395.3" stroke="#777" stroke-width="0.8"/>
<line x1="134.1" y1="367.25" x2="136.3" y2="367.25" stroke="#777" stroke-width="0.8"/>
<line x1="134.1" y1="339.2" x2="136.3" y2="339.2" stroke="#777" stroke-width="0.8"/>
<text x="132.9" y="455.2" font-size="11" text-anchor="end"  >0</text>
<text x="132.9" y="399.1" font-size="11" text-anchor="end"  >2</text>
<text x="132.9" y="343" font-size="11" text-anchor="end"  >4</text>
<clipPath id="cc1"><rect x="136.3" y="339.2" width="53.8" height="112.2"/></clipPath>
<g clip-path="url(#cc1)">
<path d="M166.23 338.2C167.39 338.67 170.97 341 173.2 341C175.43 341 178.54 338.67 179.6 338.2" fill="none" stroke="#3a3a3a" stroke-width="0.8" />
<path d="M143.6 338C148.03 349.67 165.47 395.88 170.2 408C174.93 420.12 171.5 410.2 172 410.7C172.5 411.2 173 410.95 173.2 411" fill="none" stroke="#3a3a3a" stroke-width="0.8" />
<path d="M146.4 338C149.95 347.33 163.8 383.7 167.68 394C171.56 404.3 168.78 398.7 169.7 399.8C170.62 400.9 172.62 400.47 173.2 400.6" fill="none" stroke="#3a3a3a" stroke-width="0.8" />
<path d="M136.3 391.3C138.57 391.5 145.37 391.47 149.91 392.5C154.44 393.53 159.63 396.15 163.51 397.5C167.39 398.85 170.17 399.75 173.2 400.6C176.23 401.45 178.89 401.83 181.7 402.6C184.52 403.37 188.7 404.77 190.1 405.2" fill="none" stroke="#3a3a3a" stroke-width="0.8" />
<path d="M136.3 399.9C138.57 400.22 145.37 400.45 149.91 401.8C154.44 403.15 159.63 406.47 163.51 408C167.39 409.53 170.17 410.83 173.2 411C176.23 411.17 178.89 409.97 181.7 409C184.52 408.03 188.7 405.83 190.1 405.2" fill="none" stroke="#3a3a3a" stroke-width="0.8" />
<path d="M173.2 412.8C173.57 412 172.59 415.53 175.4 408C178.22 400.47 187.65 374.33 190.1 367.6" fill="none" stroke="#3a3a3a" stroke-width="0.8" />
<path d="M190.1 367.6L183.28 338" fill="none" stroke="#3a3a3a" stroke-width="0.8" />
<path d="M143.6 338C148.03 349.67 165.47 395.88 170.2 408C174.93 420.12 171.5 410.2 172 410.7C172.5 411.2 173 410.95 173.2 411" fill="none" stroke="#4a4" stroke-width="0.7" />
<path d="M143.6 338C148.03 349.67 165.47 395.88 170.2 408C174.93 420.12 171.5 410.2 172 410.7C172.5 411.2 173 410.95 173.2 411" fill="none" stroke="#2fe02f" stroke-width="1.1" stroke-dasharray="2.0 1.0"/>
<path d="M146.4 338C149.95 347.33 163.8 383.7 167.68 394C171.56 404.3 168.78 398.7 169.7 399.8C170.62 400.9 172.62 400.47 173.2 400.6" fill="none" stroke="#4a4" stroke-width="0.7" />
<path d="M146.4 338C149.95 347.33 163.8 383.7 167.68 394C171.56 404.3 168.78 398.7 169.7 399.8C170.62 400.9 172.62 400.47 173.2 400.6" fill="none" stroke="#2fe02f" stroke-width="1.1" stroke-dasharray="2.0 1.0"/>
<path d="M171.13 399.5C171.48 399.68 171.44 400.02 173.2 400.6C174.96 401.18 178.89 401.83 181.7 403C184.52 404.17 188.7 406.83 190.1 407.6" fill="none" stroke="#2fe02f" stroke-width="2.4" stroke-linecap="round"/>
<path d="M168.95 412.5C169.66 412.75 171.08 414.08 173.2 414C175.32 413.92 178.89 413.07 181.7 412C184.52 410.93 188.7 408.33 190.1 407.6" fill="none" stroke="#2fe02f" stroke-width="2.4" stroke-linecap="round"/>
</g>
<line x1="239.3" y1="195" x2="239.3" y2="306.7" stroke="#6a6a6a" stroke-width="0.8"/>
<rect x="203" y="195" width="54.3" height="111.7" fill="none" stroke="#9a9a9a" stroke-width="1.3"/>
<line x1="200.8" y1="306.7" x2="203" y2="306.7" stroke="#777" stroke-width="0.8"/>
<line x1="200.8" y1="278.77" x2="203" y2="278.77" stroke="#777" stroke-width="0.8"/>
<line x1="200.8" y1="250.85" x2="203" y2="250.85" stroke="#777" stroke-width="0.8"/>
<line x1="200.8" y1="222.93" x2="203" y2="222.93" stroke="#777" stroke-width="0.8"/>
<line x1="200.8" y1="195" x2="203" y2="195" stroke="#777" stroke-width="0.8"/>
<text x="199.6" y="310.5" font-size="11" text-anchor="end"  >0</text>
<text x="199.6" y="254.65" font-size="11" text-anchor="end"  >2</text>
<text x="199.6" y="198.8" font-size="11" text-anchor="end"  >4</text>
<clipPath id="cb2"><rect x="203" y="195" width="54.3" height="111.7"/></clipPath>
<g clip-path="url(#cb2)">
<path d="M225.49 194C226.65 194.87 230.14 197.97 232.45 199.2C234.75 200.43 237.02 201.4 239.3 201.4C241.58 201.4 243.87 200.43 246.12 199.2C248.37 197.97 251.71 194.87 252.83 194" fill="none" stroke="#3a3a3a" stroke-width="0.8" />
<path d="M214.8 194C218.28 205.83 231.79 252.72 235.67 265C239.56 277.28 237.5 267.2 238.1 267.7C238.7 268.2 239.1 267.95 239.3 268" fill="none" stroke="#3a3a3a" stroke-width="0.8" />
<path d="M218 194C220.71 204 231.29 243.27 234.26 254C237.23 264.73 234.96 257.53 235.8 258.4C236.64 259.27 238.72 259.07 239.3 259.2" fill="none" stroke="#3a3a3a" stroke-width="0.8" />
<path d="M203 250.7C205.28 251.03 211.87 251.62 216.65 252.7C221.44 253.78 227.92 256.12 231.7 257.2C235.47 258.28 236.75 258.63 239.3 259.2C241.85 259.77 244.01 259.65 247.01 260.6C250.01 261.55 255.59 264.18 257.3 264.9" fill="none" stroke="#3a3a3a" stroke-width="0.8" />
<path d="M203 261C205.28 261.3 212.64 261.72 216.65 262.8C220.67 263.88 224.1 266.08 227.09 267.5C230.08 268.92 232.55 270.52 234.59 271.3C236.62 272.08 237.23 272.32 239.3 272.2C241.37 272.08 244.01 271.73 247.01 270.6C250.01 269.47 255.59 266.27 257.3 265.4" fill="none" stroke="#3a3a3a" stroke-width="0.8" />
<path d="M203 257.7C205.28 258.02 212.64 258.47 216.65 259.6C220.67 260.73 224.1 263.07 227.09 264.5C230.08 265.93 232.55 267.45 234.59 268.2C236.62 268.95 238.51 268.87 239.3 269" fill="none" stroke="#3a3a3a" stroke-width="0.8" />
<path d="M239.3 269C239.69 268.42 240.88 267.08 241.65 265.5C242.41 263.92 241.28 268.02 243.88 259.5C246.49 250.98 255.06 221.92 257.3 214.4" fill="none" stroke="#3a3a3a" stroke-width="0.8" />
<path d="M257.3 214.4L252.83 194" fill="none" stroke="#3a3a3a" stroke-width="0.8" />
<path d="M203 249C205.28 249.42 211.87 250.3 216.65 251.5C221.44 252.7 227.92 255.17 231.7 256.2C235.47 257.23 236.75 257.27 239.3 257.7C241.85 258.13 244.01 258.03 247.01 258.8C250.01 259.57 255.59 261.72 257.3 262.3" fill="none" stroke="#1414c8" stroke-width="2.4" stroke-linecap="round"/>
<path d="M203 257.7C205.28 258.08 212.64 258.82 216.65 260C220.67 261.18 224.1 263.5 227.09 264.8C230.08 266.1 232.55 267.27 234.59 267.8C236.62 268.33 237.23 268.17 239.3 268C241.37 267.83 244.01 267.75 247.01 266.8C250.01 265.85 255.59 263.05 257.3 262.3" fill="none" stroke="#1414c8" stroke-width="2.4" stroke-linecap="round"/>
</g>
<line x1="239.3" y1="339.2" x2="239.3" y2="451.4" stroke="#6a6a6a" stroke-width="0.8"/>
<rect x="203" y="339.2" width="54.3" height="112.2" fill="none" stroke="#9a9a9a" stroke-width="1.3"/>
<line x1="200.8" y1="451.4" x2="203" y2="451.4" stroke="#777" stroke-width="0.8"/>
<line x1="200.8" y1="423.35" x2="203" y2="423.35" stroke="#777" stroke-width="0.8"/>
<line x1="200.8" y1="395.3" x2="203" y2="395.3" stroke="#777" stroke-width="0.8"/>
<line x1="200.8" y1="367.25" x2="203" y2="367.25" stroke="#777" stroke-width="0.8"/>
<line x1="200.8" y1="339.2" x2="203" y2="339.2" stroke="#777" stroke-width="0.8"/>
<text x="199.6" y="455.2" font-size="11" text-anchor="end"  >0</text>
<text x="199.6" y="399.1" font-size="11" text-anchor="end"  >2</text>
<text x="199.6" y="343" font-size="11" text-anchor="end"  >4</text>
<clipPath id="cc2"><rect x="203" y="339.2" width="54.3" height="112.2"/></clipPath>
<g clip-path="url(#cc2)">
<path d="M232.45 338.2C233.59 338.67 237.02 341 239.3 341C241.58 341 244.98 338.67 246.12 338.2" fill="none" stroke="#3a3a3a" stroke-width="0.8" />
<path d="M214.8 338C218.38 349.67 232.42 395.88 236.3 408C240.18 420.12 237.6 410.2 238.1 410.7C238.6 411.2 239.1 410.95 239.3 411" fill="none" stroke="#3a3a3a" stroke-width="0.8" />
<path d="M217.6 338C220.47 347.33 231.77 383.7 234.8 394C237.83 404.3 235.05 398.7 235.8 399.8C236.55 400.9 238.72 400.47 239.3 400.6" fill="none" stroke="#3a3a3a" stroke-width="0.8" />
<path d="M203 391.3C205.23 391.5 211.92 391.47 216.38 392.5C220.85 393.53 225.95 396.15 229.77 397.5C233.59 398.85 236.2 399.75 239.3 400.6C242.4 401.45 245.36 401.83 248.36 402.6C251.36 403.37 255.81 404.77 257.3 405.2" fill="none" stroke="#3a3a3a" stroke-width="0.8" />
<path d="M203 399.9C205.23 400.22 211.92 400.45 216.38 401.8C220.85 403.15 225.95 406.47 229.77 408C233.59 409.53 236.2 410.83 239.3 411C242.4 411.17 245.36 409.97 248.36 409C251.36 408.03 255.81 405.83 257.3 405.2" fill="none" stroke="#3a3a3a" stroke-width="0.8" />
<path d="M239.3 412.8C239.69 412 238.65 415.53 241.65 408C244.65 400.47 254.69 374.33 257.3 367.6" fill="none" stroke="#3a3a3a" stroke-width="0.8" />
<path d="M257.3 367.6L250.03 338" fill="none" stroke="#3a3a3a" stroke-width="0.8" />
<path d="M203 392.9C205.23 393.17 211.92 393.48 216.38 394.5C220.85 395.52 225.95 397.8 229.77 399C233.59 400.2 236.2 400.9 239.3 401.7C242.4 402.5 245.36 402.82 248.36 403.8C251.36 404.78 255.81 406.97 257.3 407.6" fill="none" stroke="#1414c8" stroke-width="2.4" stroke-linecap="round"/>
<path d="M203 402.5C205.23 402.85 211.92 403.18 216.38 404.6C220.85 406.02 225.95 409.42 229.77 411C233.59 412.58 236.2 413.93 239.3 414.1C242.4 414.27 245.36 413.08 248.36 412C251.36 410.92 255.81 408.33 257.3 407.6" fill="none" stroke="#1414c8" stroke-width="2.4" stroke-linecap="round"/>
</g>
<text x="67.5" y="461.3" font-size="11" text-anchor="middle" font-style="italic" >Z</text>
<text x="102.9" y="461.3" font-size="11" text-anchor="middle" font-style="italic" >T</text>
<text x="119.7" y="461.3" font-size="11" text-anchor="middle" font-style="italic" >R</text>
<text x="137.5" y="461.3" font-size="11" text-anchor="middle" font-style="italic" >Z</text>
<text x="173.5" y="461.3" font-size="11" text-anchor="middle" font-style="italic" >T</text>
<text x="189.8" y="461.3" font-size="11" text-anchor="middle" font-style="italic" >R</text>
<text x="204.2" y="461.3" font-size="11" text-anchor="middle" font-style="italic" >Z</text>
<text x="239.6" y="461.3" font-size="11" text-anchor="middle" font-style="italic" >T</text>
<text x="257" y="461.3" font-size="11" text-anchor="middle" font-style="italic" >R</text>
<text x="321.55" y="187.6" font-size="12" text-anchor="middle"><tspan font-style="italic">ε</tspan><tspan font-size="7.5" font-style="italic" dy="2.5">x</tspan><tspan dy="-2.5"> = −2</tspan><tspan font-size="6.5" dy="2.5">%</tspan></text>
<text x="374.8" y="187.6" font-size="12" text-anchor="middle"><tspan font-style="italic">ε</tspan><tspan font-size="7.5" font-style="italic" dy="2.5">Y</tspan><tspan dy="-2.5"> = −2</tspan><tspan font-size="6.5" dy="2.5">%</tspan></text>
<text x="433.4" y="187.6" font-size="12" text-anchor="middle"><tspan font-style="italic">ε</tspan><tspan font-size="7.5" font-style="italic" dy="2.5">Z</tspan><tspan dy="-2.5"> = −2</tspan><tspan font-size="6.5" dy="2.5">%</tspan></text>
<text x="321.7" y="334.4" font-size="12" text-anchor="middle"><tspan font-style="italic">ε</tspan><tspan font-size="7.5" font-style="italic" dy="2.5">x</tspan><tspan dy="-2.5"> = 2</tspan><tspan font-size="6.5" dy="2.5">%</tspan></text>
<text x="374.75" y="334.4" font-size="12" text-anchor="middle"><tspan font-style="italic">ε</tspan><tspan font-size="7.5" font-style="italic" dy="2.5">Y</tspan><tspan dy="-2.5"> = 2</tspan><tspan font-size="6.5" dy="2.5">%</tspan></text>
<text x="434.2" y="334.4" font-size="12" text-anchor="middle"><tspan font-style="italic">ε</tspan><tspan font-size="7.5" font-style="italic" dy="2.5">Z</tspan><tspan dy="-2.5"> = 2</tspan><tspan font-size="6.5" dy="2.5">%</tspan></text>
<rect x="301.2" y="195" width="36.7" height="111.6" fill="none" stroke="#9a9a9a" stroke-width="1.3"/>
<line x1="299" y1="306.6" x2="301.2" y2="306.6" stroke="#777" stroke-width="0.8"/>
<line x1="299" y1="278.7" x2="301.2" y2="278.7" stroke="#777" stroke-width="0.8"/>
<line x1="299" y1="250.8" x2="301.2" y2="250.8" stroke="#777" stroke-width="0.8"/>
<line x1="299" y1="222.9" x2="301.2" y2="222.9" stroke="#777" stroke-width="0.8"/>
<line x1="299" y1="195" x2="301.2" y2="195" stroke="#777" stroke-width="0.8"/>
<text x="296.8" y="310.4" font-size="11" text-anchor="end"  >0</text>
<text x="296.8" y="254.6" font-size="11" text-anchor="end"  >2</text>
<text x="296.8" y="198.8" font-size="11" text-anchor="end"  >4</text>
<clipPath id="cd0"><rect x="301.2" y="195" width="36.7" height="111.6"/></clipPath>
<g clip-path="url(#cd0)">
<path d="M301.2 201.4C301.87 201.23 303.87 200.85 305.2 200.4C306.53 199.95 307.97 199.37 309.2 198.7C310.43 198.03 311.8 197.07 312.6 196.4C313.4 195.73 313.77 194.98 314 194.7" fill="none" stroke="#3a3a3a" stroke-width="0.8" />
<path d="M301.2 259.2C301.63 258.58 302.47 258.7 303.8 255.5C305.13 252.3 306.97 246.42 309.2 240C311.43 233.58 314.4 224.67 317.2 217C320 209.33 324.53 197.83 326 194" fill="none" stroke="#3a3a3a" stroke-width="0.8" />
<path d="M301.2 270C301.8 269.37 303.3 269.2 304.8 266.2C306.3 263.2 307.8 258.87 310.2 252C312.6 245.13 316.02 234.67 319.2 225C322.38 215.33 327.62 199.17 329.3 194" fill="none" stroke="#3a3a3a" stroke-width="0.8" />
<path d="M301.2 259.2C303.03 258.7 308.54 257.3 312.21 256.2C315.88 255.1 318.94 253.62 323.22 252.6C327.5 251.58 335.45 250.52 337.9 250.1" fill="none" stroke="#3a3a3a" stroke-width="0.8" />
<path d="M301.2 272C303.03 271.67 308.54 271.08 312.21 270C315.88 268.92 318.94 267 323.22 265.5C327.5 264 335.45 261.75 337.9 261" fill="none" stroke="#3a3a3a" stroke-width="0.8" />
<path d="M301.2 268.7C303.03 268.38 308.54 267.92 312.21 266.8C315.88 265.68 318.94 263.53 323.22 262C327.5 260.47 335.45 258.33 337.9 257.6" fill="none" stroke="#3a3a3a" stroke-width="0.8" />
<path d="M301.2 268.7C303.03 268.38 308.54 267.92 312.21 266.8C315.88 265.68 318.94 263.53 323.22 262C327.5 260.47 335.45 258.33 337.9 257.6" fill="none" stroke="#e31a1c" stroke-width="2.2" stroke-linecap="round"/>
</g>
<rect x="301.4" y="339.2" width="36.6" height="111.9" fill="none" stroke="#9a9a9a" stroke-width="1.3"/>
<line x1="299.2" y1="451.1" x2="301.4" y2="451.1" stroke="#777" stroke-width="0.8"/>
<line x1="299.2" y1="423.12" x2="301.4" y2="423.12" stroke="#777" stroke-width="0.8"/>
<line x1="299.2" y1="395.15" x2="301.4" y2="395.15" stroke="#777" stroke-width="0.8"/>
<line x1="299.2" y1="367.18" x2="301.4" y2="367.18" stroke="#777" stroke-width="0.8"/>
<line x1="299.2" y1="339.2" x2="301.4" y2="339.2" stroke="#777" stroke-width="0.8"/>
<text x="297" y="454.9" font-size="11" text-anchor="end"  >0</text>
<text x="297" y="398.95" font-size="11" text-anchor="end"  >2</text>
<text x="297" y="343" font-size="11" text-anchor="end"  >4</text>
<clipPath id="ce0"><rect x="301.4" y="339.2" width="36.6" height="111.9"/></clipPath>
<g clip-path="url(#ce0)">
<path d="M301.4 341.2C301.77 341.03 302.86 340.62 303.6 340.2C304.33 339.78 305.43 338.95 305.79 338.7" fill="none" stroke="#3a3a3a" stroke-width="0.7" />
<path d="M301.4 400.8C301.9 399.75 303.07 397.77 304.4 394.5C305.73 391.23 307.23 387.1 309.4 381.2C311.57 375.3 314.97 366.3 317.4 359.1C319.83 351.9 322.9 341.52 324 338" fill="none" stroke="#3a3a3a" stroke-width="0.8" />
<path d="M301.4 411.3C301.82 411.02 302.85 410.65 303.9 409.6C304.95 408.55 305.97 408.67 307.7 405C309.43 401.33 311.88 394.72 314.3 387.6C316.72 380.48 320.05 370.57 322.2 362.3C324.35 354.03 326.37 342.05 327.2 338" fill="none" stroke="#3a3a3a" stroke-width="0.8" />
<path d="M301.4 400.6C303.23 400 308.72 398.27 312.38 397C316.04 395.73 319.09 393.95 323.36 393C327.63 392.05 335.56 391.58 338 391.3" fill="none" stroke="#3a3a3a" stroke-width="0.8" />
<path d="M301.4 410.9C303.23 410.58 308.72 410.15 312.38 409C316.04 407.85 319.09 405.53 323.36 404C327.63 402.47 335.56 400.5 338 399.8" fill="none" stroke="#3a3a3a" stroke-width="0.8" />
<path d="M301.4 413.5C303.23 413.18 308.72 412.72 312.38 411.6C316.04 410.48 319.09 408.47 323.36 406.8C327.63 405.13 335.56 402.47 338 401.6" fill="none" stroke="#e31a1c" stroke-width="2.2" stroke-linecap="round"/>
</g>
<rect x="354.3" y="195" width="37" height="111.6" fill="none" stroke="#9a9a9a" stroke-width="1.3"/>
<line x1="352.1" y1="306.6" x2="354.3" y2="306.6" stroke="#777" stroke-width="0.8"/>
<line x1="352.1" y1="278.7" x2="354.3" y2="278.7" stroke="#777" stroke-width="0.8"/>
<line x1="352.1" y1="250.8" x2="354.3" y2="250.8" stroke="#777" stroke-width="0.8"/>
<line x1="352.1" y1="222.9" x2="354.3" y2="222.9" stroke="#777" stroke-width="0.8"/>
<line x1="352.1" y1="195" x2="354.3" y2="195" stroke="#777" stroke-width="0.8"/>
<text x="349.9" y="310.4" font-size="11" text-anchor="end"  >0</text>
<text x="349.9" y="254.6" font-size="11" text-anchor="end"  >2</text>
<text x="349.9" y="198.8" font-size="11" text-anchor="end"  >4</text>
<clipPath id="cd1"><rect x="354.3" y="195" width="37" height="111.6"/></clipPath>
<g clip-path="url(#cd1)">
<path d="M354.3 201.4C354.97 201.23 356.97 200.85 358.3 200.4C359.63 199.95 361.07 199.37 362.3 198.7C363.53 198.03 364.9 197.07 365.7 196.4C366.5 195.73 366.87 194.98 367.1 194.7" fill="none" stroke="#3a3a3a" stroke-width="0.8" />
<path d="M354.3 259.2C354.73 258.58 355.57 258.7 356.9 255.5C358.23 252.3 360.07 246.42 362.3 240C364.53 233.58 367.5 224.67 370.3 217C373.1 209.33 377.63 197.83 379.1 194" fill="none" stroke="#3a3a3a" stroke-width="0.8" />
<path d="M354.3 270C354.9 269.37 356.4 269.2 357.9 266.2C359.4 263.2 360.9 258.87 363.3 252C365.7 245.13 369.12 234.67 372.3 225C375.48 215.33 380.72 199.17 382.4 194" fill="none" stroke="#3a3a3a" stroke-width="0.8" />
<path d="M354.3 259.2C356.15 258.7 361.7 257.3 365.4 256.2C369.1 255.1 372.18 253.62 376.5 252.6C380.82 251.58 388.83 250.52 391.3 250.1" fill="none" stroke="#3a3a3a" stroke-width="0.8" />
<path d="M354.3 272C356.15 271.67 361.7 271.08 365.4 270C369.1 268.92 372.18 267 376.5 265.5C380.82 264 388.83 261.75 391.3 261" fill="none" stroke="#3a3a3a" stroke-width="0.8" />
<path d="M354.3 257.6C356.15 257.17 361.7 256.02 365.4 255C369.1 253.98 372.18 252.53 376.5 251.5C380.82 250.47 388.83 249.25 391.3 248.8" fill="none" stroke="#2fe02f" stroke-width="2.6" stroke-linecap="round"/>
<path d="M354.3 267.4C356.15 267.07 361.7 266.5 365.4 265.4C369.1 264.3 372.18 262.18 376.5 260.8C380.82 259.42 388.83 257.72 391.3 257.1" fill="none" stroke="#2fe02f" stroke-width="2.6" stroke-linecap="round"/>
</g>
<rect x="354.5" y="339.2" width="36.5" height="111.9" fill="none" stroke="#9a9a9a" stroke-width="1.3"/>
<line x1="352.3" y1="451.1" x2="354.5" y2="451.1" stroke="#777" stroke-width="0.8"/>
<line x1="352.3" y1="423.12" x2="354.5" y2="423.12" stroke="#777" stroke-width="0.8"/>
<line x1="352.3" y1="395.15" x2="354.5" y2="395.15" stroke="#777" stroke-width="0.8"/>
<line x1="352.3" y1="367.18" x2="354.5" y2="367.18" stroke="#777" stroke-width="0.8"/>
<line x1="352.3" y1="339.2" x2="354.5" y2="339.2" stroke="#777" stroke-width="0.8"/>
<text x="350.1" y="454.9" font-size="11" text-anchor="end"  >0</text>
<text x="350.1" y="398.95" font-size="11" text-anchor="end"  >2</text>
<text x="350.1" y="343" font-size="11" text-anchor="end"  >4</text>
<clipPath id="ce1"><rect x="354.5" y="339.2" width="36.5" height="111.9"/></clipPath>
<g clip-path="url(#ce1)">
<path d="M354.5 341.2C354.87 341.03 355.96 340.62 356.69 340.2C357.42 339.78 358.51 338.95 358.88 338.7" fill="none" stroke="#3a3a3a" stroke-width="0.7" />
<path d="M354.5 400.8C355 399.75 356.17 397.77 357.5 394.5C358.83 391.23 360.33 387.1 362.5 381.2C364.67 375.3 368.07 366.3 370.5 359.1C372.93 351.9 376 341.52 377.1 338" fill="none" stroke="#3a3a3a" stroke-width="0.8" />
<path d="M354.5 411.3C354.92 411.02 355.95 410.65 357 409.6C358.05 408.55 359.07 408.67 360.8 405C362.53 401.33 364.98 394.72 367.4 387.6C369.82 380.48 373.15 370.57 375.3 362.3C377.45 354.03 379.47 342.05 380.3 338" fill="none" stroke="#3a3a3a" stroke-width="0.8" />
<path d="M354.5 400.6C356.32 400 361.8 398.27 365.45 397C369.1 395.73 372.14 393.95 376.4 393C380.66 392.05 388.57 391.58 391 391.3" fill="none" stroke="#3a3a3a" stroke-width="0.8" />
<path d="M354.5 410.9C356.32 410.58 361.8 410.15 365.45 409C369.1 407.85 372.14 405.53 376.4 404C380.66 402.47 388.57 400.5 391 399.8" fill="none" stroke="#3a3a3a" stroke-width="0.8" />
<path d="M354.5 402.4C356.32 401.83 361.8 400.23 365.45 399C369.1 397.77 372.14 396.03 376.4 395C380.66 393.97 388.57 393.17 391 392.8" fill="none" stroke="#2fe02f" stroke-width="2.6" stroke-linecap="round"/>
<path d="M354.5 414C356.32 413.67 361.8 413.13 365.45 412C369.1 410.87 372.14 408.67 376.4 407.2C380.66 405.73 388.57 403.87 391 403.2" fill="none" stroke="#2fe02f" stroke-width="2.6" stroke-linecap="round"/>
</g>
<rect x="413" y="195" width="36.8" height="111.6" fill="none" stroke="#9a9a9a" stroke-width="1.3"/>
<line x1="410.8" y1="306.6" x2="413" y2="306.6" stroke="#777" stroke-width="0.8"/>
<line x1="410.8" y1="278.7" x2="413" y2="278.7" stroke="#777" stroke-width="0.8"/>
<line x1="410.8" y1="250.8" x2="413" y2="250.8" stroke="#777" stroke-width="0.8"/>
<line x1="410.8" y1="222.9" x2="413" y2="222.9" stroke="#777" stroke-width="0.8"/>
<line x1="410.8" y1="195" x2="413" y2="195" stroke="#777" stroke-width="0.8"/>
<text x="408.6" y="310.4" font-size="11" text-anchor="end"  >0</text>
<text x="408.6" y="254.6" font-size="11" text-anchor="end"  >2</text>
<text x="408.6" y="198.8" font-size="11" text-anchor="end"  >4</text>
<clipPath id="cd2"><rect x="413" y="195" width="36.8" height="111.6"/></clipPath>
<g clip-path="url(#cd2)">
<path d="M413 201.4C413.67 201.23 415.67 200.85 417 200.4C418.33 199.95 419.77 199.37 421 198.7C422.23 198.03 423.6 197.07 424.4 196.4C425.2 195.73 425.57 194.98 425.8 194.7" fill="none" stroke="#8a8a8a" stroke-width="0.8" />
<path d="M413 259.2C414.84 258.7 420.36 257.3 424.04 256.2C427.72 255.1 430.79 253.62 435.08 252.6C439.37 251.58 447.35 250.52 449.8 250.1" fill="none" stroke="#8a8a8a" stroke-width="0.7" />
<path d="M413 272C414.84 271.67 420.36 271.08 424.04 270C427.72 268.92 430.79 267 435.08 265.5C439.37 264 447.35 261.75 449.8 261" fill="none" stroke="#8a8a8a" stroke-width="0.7" />
<path d="M413 259.2C414.84 258.97 420.36 258.77 424.04 257.8C427.72 256.83 430.79 254.72 435.08 253.4C439.37 252.08 447.35 250.48 449.8 249.9" fill="none" stroke="#999" stroke-width="0.6" />
<path d="M413 257.6C413.4 257.08 414.23 257.43 415.4 254.5C416.57 251.57 417.98 246.25 420 240C422.02 233.75 424.97 224.67 427.5 217C430.03 209.33 433.92 197.83 435.2 194" fill="none" stroke="#888" stroke-width="0.7" />
<path d="M413 257.6C413.4 257.08 414.23 257.43 415.4 254.5C416.57 251.57 417.98 246.25 420 240C422.02 233.75 424.97 224.67 427.5 217C430.03 209.33 433.92 197.83 435.2 194" fill="none" stroke="#1414c8" stroke-width="2.0" stroke-linecap="round" stroke-dasharray="0.01 3.6"/>
<path d="M413 267.4C413.57 266.83 414.98 266.9 416.4 264C417.82 261.1 419.32 256.5 421.5 250C423.68 243.5 426.78 234.33 429.5 225C432.22 215.67 436.42 199.17 437.8 194" fill="none" stroke="#888" stroke-width="0.7" />
<path d="M413 267.4C413.57 266.83 414.98 266.9 416.4 264C417.82 261.1 419.32 256.5 421.5 250C423.68 243.5 426.78 234.33 429.5 225C432.22 215.67 436.42 199.17 437.8 194" fill="none" stroke="#1414c8" stroke-width="2.0" stroke-linecap="round" stroke-dasharray="0.01 3.6"/>
</g>
<rect x="413.9" y="339.2" width="36.6" height="111.9" fill="none" stroke="#9a9a9a" stroke-width="1.3"/>
<line x1="411.7" y1="451.1" x2="413.9" y2="451.1" stroke="#777" stroke-width="0.8"/>
<line x1="411.7" y1="423.12" x2="413.9" y2="423.12" stroke="#777" stroke-width="0.8"/>
<line x1="411.7" y1="395.15" x2="413.9" y2="395.15" stroke="#777" stroke-width="0.8"/>
<line x1="411.7" y1="367.18" x2="413.9" y2="367.18" stroke="#777" stroke-width="0.8"/>
<line x1="411.7" y1="339.2" x2="413.9" y2="339.2" stroke="#777" stroke-width="0.8"/>
<text x="409.5" y="454.9" font-size="11" text-anchor="end"  >0</text>
<text x="409.5" y="398.95" font-size="11" text-anchor="end"  >2</text>
<text x="409.5" y="343" font-size="11" text-anchor="end"  >4</text>
<clipPath id="ce2"><rect x="413.9" y="339.2" width="36.6" height="111.9"/></clipPath>
<g clip-path="url(#ce2)">
<path d="M413.9 341.2C414.27 341.03 415.36 340.62 416.1 340.2C416.83 339.78 417.93 338.95 418.29 338.7" fill="none" stroke="#3a3a3a" stroke-width="0.7" />
<path d="M413.9 400.6C415.73 400 421.22 398.27 424.88 397C428.54 395.73 431.59 393.95 435.86 393C440.13 392.05 448.06 391.58 450.5 391.3" fill="none" stroke="#3a3a3a" stroke-width="0.8" />
<path d="M413.9 410.9C415.73 410.58 421.22 410.15 424.88 409C428.54 407.85 431.59 405.53 435.86 404C440.13 402.47 448.06 400.5 450.5 399.8" fill="none" stroke="#3a3a3a" stroke-width="0.8" />
<path d="M413.9 401.6C414.4 400.67 415.48 399.27 416.9 396C418.32 392.73 420.07 388.15 422.4 382C424.73 375.85 428.12 366.43 430.9 359.1C433.68 351.77 437.73 341.52 439.1 338" fill="none" stroke="#888" stroke-width="0.7" />
<path d="M413.9 401.6C414.4 400.67 415.48 399.27 416.9 396C418.32 392.73 420.07 388.15 422.4 382C424.73 375.85 428.12 366.43 430.9 359.1C433.68 351.77 437.73 341.52 439.1 338" fill="none" stroke="#1414c8" stroke-width="2.0" stroke-linecap="round" stroke-dasharray="0.01 3.6"/>
<path d="M413.9 414.5C414.32 414.22 415.3 413.88 416.4 412.8C417.5 411.72 418.67 411.8 420.5 408C422.33 404.2 424.87 397.5 427.4 390C429.93 382.5 433.32 371.67 435.7 363C438.08 354.33 440.7 342.17 441.7 338" fill="none" stroke="#888" stroke-width="0.7" />
<path d="M413.9 414.5C414.32 414.22 415.3 413.88 416.4 412.8C417.5 411.72 418.67 411.8 420.5 408C422.33 404.2 424.87 397.5 427.4 390C429.93 382.5 433.32 371.67 435.7 363C438.08 354.33 440.7 342.17 441.7 338" fill="none" stroke="#1414c8" stroke-width="2.0" stroke-linecap="round" stroke-dasharray="0.01 3.6"/>
</g>
<text x="302.9" y="461.3" font-size="11" text-anchor="middle" font-style="italic" >T</text>
<text x="337" y="461.3" font-size="11" text-anchor="middle" font-style="italic" >Y</text>
<text x="356" y="461.3" font-size="11" text-anchor="middle" font-style="italic" >T</text>
<text x="390" y="461.3" font-size="11" text-anchor="middle" font-style="italic" >Y</text>
<text x="415.4" y="461.3" font-size="11" text-anchor="middle" font-style="italic" >T</text>
<text x="449.5" y="461.3" font-size="11" text-anchor="middle" font-style="italic" >Y</text>
<text x="544" y="187.4" font-size="12" text-anchor="middle"><tspan font-style="italic">ε</tspan><tspan font-size="7.5" font-style="italic" dy="2.5">X</tspan><tspan dy="-2.5"> = −2</tspan><tspan font-size="6.5" dy="2.5">%</tspan></text>
<text x="544" y="330" font-size="12" text-anchor="middle"><tspan font-style="italic">ε</tspan><tspan font-size="7.5" font-style="italic" dy="2.5">X</tspan><tspan dy="-2.5"> = 2</tspan><tspan font-size="6.5" dy="2.5">%</tspan></text>
<clipPath id="cg"><rect x="484.8" y="196" width="105.2" height="107.4"/></clipPath>
<g clip-path="url(#cg)">
<rect x="484.8" y="196" width="105.2" height="107.4" fill="#0000f6"/>
<path d="M471 192.5L473.7 192.5Q479.23 188.32 484.3 183.5L484.3 182.9L485.3 182.9L485.3 183.5Q490.37 188.32 495.9 192.5L498.6 192.5L498.6 199.3L495.9 199.3Q490.37 203.48 485.3 208.3L485.3 208.9L484.3 208.9L484.3 208.3Q479.23 203.48 473.7 199.3L471 199.3ZM496.9 195.9C501.9 190.9 503 183.9 511.5 183.9C520 183.9 521.1 190.9 526.1 195.9C521.1 200.9 520 207.9 511.5 207.9C503 207.9 501.9 200.9 496.9 195.9ZM472.8 222.6C472.8 214.6 480.6 212.9 484.8 208.7C489 212.9 496.8 214.6 496.8 222.6C496.8 230.6 489 232.3 484.8 236.5C480.6 232.3 472.8 230.6 472.8 222.6ZM471 245.9L473.7 245.9Q479.23 241.72 484.3 236.9L484.3 236.3L485.3 236.3L485.3 236.9Q490.37 241.72 495.9 245.9L498.6 245.9L498.6 252.7L495.9 252.7Q490.37 256.88 485.3 261.7L485.3 262.3L484.3 262.3L484.3 261.7Q479.23 256.88 473.7 252.7L471 252.7ZM496.9 249.3C501.9 244.3 503 237.3 511.5 237.3C520 237.3 521.1 244.3 526.1 249.3C521.1 254.3 520 261.3 511.5 261.3C503 261.3 501.9 254.3 496.9 249.3ZM472.8 276C472.8 268 480.6 266.3 484.8 262.1C489 266.3 496.8 268 496.8 276C496.8 284 489 285.7 484.8 289.9C480.6 285.7 472.8 284 472.8 276ZM471 299.3L473.7 299.3Q479.23 295.12 484.3 290.3L484.3 289.7L485.3 289.7L485.3 290.3Q490.37 295.12 495.9 299.3L498.6 299.3L498.6 306.1L495.9 306.1Q490.37 310.28 485.3 315.1L485.3 315.7L484.3 315.7L484.3 315.1Q479.23 310.28 473.7 306.1L471 306.1ZM496.9 302.7C501.9 297.7 503 290.7 511.5 290.7C520 290.7 521.1 297.7 526.1 302.7C521.1 307.7 520 314.7 511.5 314.7C503 314.7 501.9 307.7 496.9 302.7ZM524.4 192.5L527.1 192.5Q532.63 188.32 537.7 183.5L537.7 182.9L538.7 182.9L538.7 183.5Q543.77 188.32 549.3 192.5L552 192.5L552 199.3L549.3 199.3Q543.77 203.48 538.7 208.3L538.7 208.9L537.7 208.9L537.7 208.3Q532.63 203.48 527.1 199.3L524.4 199.3ZM550.3 195.9C555.3 190.9 556.4 183.9 564.9 183.9C573.4 183.9 574.5 190.9 579.5 195.9C574.5 200.9 573.4 207.9 564.9 207.9C556.4 207.9 555.3 200.9 550.3 195.9ZM526.2 222.6C526.2 214.6 534 212.9 538.2 208.7C542.4 212.9 550.2 214.6 550.2 222.6C550.2 230.6 542.4 232.3 538.2 236.5C534 232.3 526.2 230.6 526.2 222.6ZM524.4 245.9L527.1 245.9Q532.63 241.72 537.7 236.9L537.7 236.3L538.7 236.3L538.7 236.9Q543.77 241.72 549.3 245.9L552 245.9L552 252.7L549.3 252.7Q543.77 256.88 538.7 261.7L538.7 262.3L537.7 262.3L537.7 261.7Q532.63 256.88 527.1 252.7L524.4 252.7ZM550.3 249.3C555.3 244.3 556.4 237.3 564.9 237.3C573.4 237.3 574.5 244.3 579.5 249.3C574.5 254.3 573.4 261.3 564.9 261.3C556.4 261.3 555.3 254.3 550.3 249.3ZM526.2 276C526.2 268 534 266.3 538.2 262.1C542.4 266.3 550.2 268 550.2 276C550.2 284 542.4 285.7 538.2 289.9C534 285.7 526.2 284 526.2 276ZM524.4 299.3L527.1 299.3Q532.63 295.12 537.7 290.3L537.7 289.7L538.7 289.7L538.7 290.3Q543.77 295.12 549.3 299.3L552 299.3L552 306.1L549.3 306.1Q543.77 310.28 538.7 315.1L538.7 315.7L537.7 315.7L537.7 315.1Q532.63 310.28 527.1 306.1L524.4 306.1ZM550.3 302.7C555.3 297.7 556.4 290.7 564.9 290.7C573.4 290.7 574.5 297.7 579.5 302.7C574.5 307.7 573.4 314.7 564.9 314.7C556.4 314.7 555.3 307.7 550.3 302.7ZM577.8 192.5L580.5 192.5Q586.03 188.32 591.1 183.5L591.1 182.9L592.1 182.9L592.1 183.5Q597.17 188.32 602.7 192.5L605.4 192.5L605.4 199.3L602.7 199.3Q597.17 203.48 592.1 208.3L592.1 208.9L591.1 208.9L591.1 208.3Q586.03 203.48 580.5 199.3L577.8 199.3ZM579.6 222.6C579.6 214.6 587.4 212.9 591.6 208.7C595.8 212.9 603.6 214.6 603.6 222.6C603.6 230.6 595.8 232.3 591.6 236.5C587.4 232.3 579.6 230.6 579.6 222.6ZM577.8 245.9L580.5 245.9Q586.03 241.72 591.1 236.9L591.1 236.3L592.1 236.3L592.1 236.9Q597.17 241.72 602.7 245.9L605.4 245.9L605.4 252.7L602.7 252.7Q597.17 256.88 592.1 261.7L592.1 262.3L591.1 262.3L591.1 261.7Q586.03 256.88 580.5 252.7L577.8 252.7ZM579.6 276C579.6 268 587.4 266.3 591.6 262.1C595.8 266.3 603.6 268 603.6 276C603.6 284 595.8 285.7 591.6 289.9C587.4 285.7 579.6 284 579.6 276ZM577.8 299.3L580.5 299.3Q586.03 295.12 591.1 290.3L591.1 289.7L592.1 289.7L592.1 290.3Q597.17 295.12 602.7 299.3L605.4 299.3L605.4 306.1L602.7 306.1Q597.17 310.28 592.1 315.1L592.1 315.7L591.1 315.7L591.1 315.1Q586.03 310.28 580.5 306.1L577.8 306.1Z" fill="none" stroke="#3aa8e8" stroke-width="3.4" stroke-linejoin="round"/>
<path d="M471 192.5L473.7 192.5Q479.23 188.32 484.3 183.5L484.3 182.9L485.3 182.9L485.3 183.5Q490.37 188.32 495.9 192.5L498.6 192.5L498.6 199.3L495.9 199.3Q490.37 203.48 485.3 208.3L485.3 208.9L484.3 208.9L484.3 208.3Q479.23 203.48 473.7 199.3L471 199.3ZM496.9 195.9C501.9 190.9 503 183.9 511.5 183.9C520 183.9 521.1 190.9 526.1 195.9C521.1 200.9 520 207.9 511.5 207.9C503 207.9 501.9 200.9 496.9 195.9ZM472.8 222.6C472.8 214.6 480.6 212.9 484.8 208.7C489 212.9 496.8 214.6 496.8 222.6C496.8 230.6 489 232.3 484.8 236.5C480.6 232.3 472.8 230.6 472.8 222.6ZM471 245.9L473.7 245.9Q479.23 241.72 484.3 236.9L484.3 236.3L485.3 236.3L485.3 236.9Q490.37 241.72 495.9 245.9L498.6 245.9L498.6 252.7L495.9 252.7Q490.37 256.88 485.3 261.7L485.3 262.3L484.3 262.3L484.3 261.7Q479.23 256.88 473.7 252.7L471 252.7ZM496.9 249.3C501.9 244.3 503 237.3 511.5 237.3C520 237.3 521.1 244.3 526.1 249.3C521.1 254.3 520 261.3 511.5 261.3C503 261.3 501.9 254.3 496.9 249.3ZM472.8 276C472.8 268 480.6 266.3 484.8 262.1C489 266.3 496.8 268 496.8 276C496.8 284 489 285.7 484.8 289.9C480.6 285.7 472.8 284 472.8 276ZM471 299.3L473.7 299.3Q479.23 295.12 484.3 290.3L484.3 289.7L485.3 289.7L485.3 290.3Q490.37 295.12 495.9 299.3L498.6 299.3L498.6 306.1L495.9 306.1Q490.37 310.28 485.3 315.1L485.3 315.7L484.3 315.7L484.3 315.1Q479.23 310.28 473.7 306.1L471 306.1ZM496.9 302.7C501.9 297.7 503 290.7 511.5 290.7C520 290.7 521.1 297.7 526.1 302.7C521.1 307.7 520 314.7 511.5 314.7C503 314.7 501.9 307.7 496.9 302.7ZM524.4 192.5L527.1 192.5Q532.63 188.32 537.7 183.5L537.7 182.9L538.7 182.9L538.7 183.5Q543.77 188.32 549.3 192.5L552 192.5L552 199.3L549.3 199.3Q543.77 203.48 538.7 208.3L538.7 208.9L537.7 208.9L537.7 208.3Q532.63 203.48 527.1 199.3L524.4 199.3ZM550.3 195.9C555.3 190.9 556.4 183.9 564.9 183.9C573.4 183.9 574.5 190.9 579.5 195.9C574.5 200.9 573.4 207.9 564.9 207.9C556.4 207.9 555.3 200.9 550.3 195.9ZM526.2 222.6C526.2 214.6 534 212.9 538.2 208.7C542.4 212.9 550.2 214.6 550.2 222.6C550.2 230.6 542.4 232.3 538.2 236.5C534 232.3 526.2 230.6 526.2 222.6ZM524.4 245.9L527.1 245.9Q532.63 241.72 537.7 236.9L537.7 236.3L538.7 236.3L538.7 236.9Q543.77 241.72 549.3 245.9L552 245.9L552 252.7L549.3 252.7Q543.77 256.88 538.7 261.7L538.7 262.3L537.7 262.3L537.7 261.7Q532.63 256.88 527.1 252.7L524.4 252.7ZM550.3 249.3C555.3 244.3 556.4 237.3 564.9 237.3C573.4 237.3 574.5 244.3 579.5 249.3C574.5 254.3 573.4 261.3 564.9 261.3C556.4 261.3 555.3 254.3 550.3 249.3ZM526.2 276C526.2 268 534 266.3 538.2 262.1C542.4 266.3 550.2 268 550.2 276C550.2 284 542.4 285.7 538.2 289.9C534 285.7 526.2 284 526.2 276ZM524.4 299.3L527.1 299.3Q532.63 295.12 537.7 290.3L537.7 289.7L538.7 289.7L538.7 290.3Q543.77 295.12 549.3 299.3L552 299.3L552 306.1L549.3 306.1Q543.77 310.28 538.7 315.1L538.7 315.7L537.7 315.7L537.7 315.1Q532.63 310.28 527.1 306.1L524.4 306.1ZM550.3 302.7C555.3 297.7 556.4 290.7 564.9 290.7C573.4 290.7 574.5 297.7 579.5 302.7C574.5 307.7 573.4 314.7 564.9 314.7C556.4 314.7 555.3 307.7 550.3 302.7ZM577.8 192.5L580.5 192.5Q586.03 188.32 591.1 183.5L591.1 182.9L592.1 182.9L592.1 183.5Q597.17 188.32 602.7 192.5L605.4 192.5L605.4 199.3L602.7 199.3Q597.17 203.48 592.1 208.3L592.1 208.9L591.1 208.9L591.1 208.3Q586.03 203.48 580.5 199.3L577.8 199.3ZM579.6 222.6C579.6 214.6 587.4 212.9 591.6 208.7C595.8 212.9 603.6 214.6 603.6 222.6C603.6 230.6 595.8 232.3 591.6 236.5C587.4 232.3 579.6 230.6 579.6 222.6ZM577.8 245.9L580.5 245.9Q586.03 241.72 591.1 236.9L591.1 236.3L592.1 236.3L592.1 236.9Q597.17 241.72 602.7 245.9L605.4 245.9L605.4 252.7L602.7 252.7Q597.17 256.88 592.1 261.7L592.1 262.3L591.1 262.3L591.1 261.7Q586.03 256.88 580.5 252.7L577.8 252.7ZM579.6 276C579.6 268 587.4 266.3 591.6 262.1C595.8 266.3 603.6 268 603.6 276C603.6 284 595.8 285.7 591.6 289.9C587.4 285.7 579.6 284 579.6 276ZM577.8 299.3L580.5 299.3Q586.03 295.12 591.1 290.3L591.1 289.7L592.1 289.7L592.1 290.3Q597.17 295.12 602.7 299.3L605.4 299.3L605.4 306.1L602.7 306.1Q597.17 310.28 592.1 315.1L592.1 315.7L591.1 315.7L591.1 315.1Q586.03 310.28 580.5 306.1L577.8 306.1Z" fill="none" stroke="#b8e070" stroke-width="2.2" stroke-linejoin="round"/>
<path d="M471 192.5L473.7 192.5Q479.23 188.32 484.3 183.5L484.3 182.9L485.3 182.9L485.3 183.5Q490.37 188.32 495.9 192.5L498.6 192.5L498.6 199.3L495.9 199.3Q490.37 203.48 485.3 208.3L485.3 208.9L484.3 208.9L484.3 208.3Q479.23 203.48 473.7 199.3L471 199.3ZM496.9 195.9C501.9 190.9 503 183.9 511.5 183.9C520 183.9 521.1 190.9 526.1 195.9C521.1 200.9 520 207.9 511.5 207.9C503 207.9 501.9 200.9 496.9 195.9ZM472.8 222.6C472.8 214.6 480.6 212.9 484.8 208.7C489 212.9 496.8 214.6 496.8 222.6C496.8 230.6 489 232.3 484.8 236.5C480.6 232.3 472.8 230.6 472.8 222.6ZM471 245.9L473.7 245.9Q479.23 241.72 484.3 236.9L484.3 236.3L485.3 236.3L485.3 236.9Q490.37 241.72 495.9 245.9L498.6 245.9L498.6 252.7L495.9 252.7Q490.37 256.88 485.3 261.7L485.3 262.3L484.3 262.3L484.3 261.7Q479.23 256.88 473.7 252.7L471 252.7ZM496.9 249.3C501.9 244.3 503 237.3 511.5 237.3C520 237.3 521.1 244.3 526.1 249.3C521.1 254.3 520 261.3 511.5 261.3C503 261.3 501.9 254.3 496.9 249.3ZM472.8 276C472.8 268 480.6 266.3 484.8 262.1C489 266.3 496.8 268 496.8 276C496.8 284 489 285.7 484.8 289.9C480.6 285.7 472.8 284 472.8 276ZM471 299.3L473.7 299.3Q479.23 295.12 484.3 290.3L484.3 289.7L485.3 289.7L485.3 290.3Q490.37 295.12 495.9 299.3L498.6 299.3L498.6 306.1L495.9 306.1Q490.37 310.28 485.3 315.1L485.3 315.7L484.3 315.7L484.3 315.1Q479.23 310.28 473.7 306.1L471 306.1ZM496.9 302.7C501.9 297.7 503 290.7 511.5 290.7C520 290.7 521.1 297.7 526.1 302.7C521.1 307.7 520 314.7 511.5 314.7C503 314.7 501.9 307.7 496.9 302.7ZM524.4 192.5L527.1 192.5Q532.63 188.32 537.7 183.5L537.7 182.9L538.7 182.9L538.7 183.5Q543.77 188.32 549.3 192.5L552 192.5L552 199.3L549.3 199.3Q543.77 203.48 538.7 208.3L538.7 208.9L537.7 208.9L537.7 208.3Q532.63 203.48 527.1 199.3L524.4 199.3ZM550.3 195.9C555.3 190.9 556.4 183.9 564.9 183.9C573.4 183.9 574.5 190.9 579.5 195.9C574.5 200.9 573.4 207.9 564.9 207.9C556.4 207.9 555.3 200.9 550.3 195.9ZM526.2 222.6C526.2 214.6 534 212.9 538.2 208.7C542.4 212.9 550.2 214.6 550.2 222.6C550.2 230.6 542.4 232.3 538.2 236.5C534 232.3 526.2 230.6 526.2 222.6ZM524.4 245.9L527.1 245.9Q532.63 241.72 537.7 236.9L537.7 236.3L538.7 236.3L538.7 236.9Q543.77 241.72 549.3 245.9L552 245.9L552 252.7L549.3 252.7Q543.77 256.88 538.7 261.7L538.7 262.3L537.7 262.3L537.7 261.7Q532.63 256.88 527.1 252.7L524.4 252.7ZM550.3 249.3C555.3 244.3 556.4 237.3 564.9 237.3C573.4 237.3 574.5 244.3 579.5 249.3C574.5 254.3 573.4 261.3 564.9 261.3C556.4 261.3 555.3 254.3 550.3 249.3ZM526.2 276C526.2 268 534 266.3 538.2 262.1C542.4 266.3 550.2 268 550.2 276C550.2 284 542.4 285.7 538.2 289.9C534 285.7 526.2 284 526.2 276ZM524.4 299.3L527.1 299.3Q532.63 295.12 537.7 290.3L537.7 289.7L538.7 289.7L538.7 290.3Q543.77 295.12 549.3 299.3L552 299.3L552 306.1L549.3 306.1Q543.77 310.28 538.7 315.1L538.7 315.7L537.7 315.7L537.7 315.1Q532.63 310.28 527.1 306.1L524.4 306.1ZM550.3 302.7C555.3 297.7 556.4 290.7 564.9 290.7C573.4 290.7 574.5 297.7 579.5 302.7C574.5 307.7 573.4 314.7 564.9 314.7C556.4 314.7 555.3 307.7 550.3 302.7ZM577.8 192.5L580.5 192.5Q586.03 188.32 591.1 183.5L591.1 182.9L592.1 182.9L592.1 183.5Q597.17 188.32 602.7 192.5L605.4 192.5L605.4 199.3L602.7 199.3Q597.17 203.48 592.1 208.3L592.1 208.9L591.1 208.9L591.1 208.3Q586.03 203.48 580.5 199.3L577.8 199.3ZM579.6 222.6C579.6 214.6 587.4 212.9 591.6 208.7C595.8 212.9 603.6 214.6 603.6 222.6C603.6 230.6 595.8 232.3 591.6 236.5C587.4 232.3 579.6 230.6 579.6 222.6ZM577.8 245.9L580.5 245.9Q586.03 241.72 591.1 236.9L591.1 236.3L592.1 236.3L592.1 236.9Q597.17 241.72 602.7 245.9L605.4 245.9L605.4 252.7L602.7 252.7Q597.17 256.88 592.1 261.7L592.1 262.3L591.1 262.3L591.1 261.7Q586.03 256.88 580.5 252.7L577.8 252.7ZM579.6 276C579.6 268 587.4 266.3 591.6 262.1C595.8 266.3 603.6 268 603.6 276C603.6 284 595.8 285.7 591.6 289.9C587.4 285.7 579.6 284 579.6 276ZM577.8 299.3L580.5 299.3Q586.03 295.12 591.1 290.3L591.1 289.7L592.1 289.7L592.1 290.3Q597.17 295.12 602.7 299.3L605.4 299.3L605.4 306.1L602.7 306.1Q597.17 310.28 592.1 315.1L592.1 315.7L591.1 315.7L591.1 315.1Q586.03 310.28 580.5 306.1L577.8 306.1Z" fill="#f60000"/>
<circle cx="484.8" cy="195.9" r="2.6" fill="#1830d0" stroke="#c8d860" stroke-width="1"/>
<circle cx="511.5" cy="195.9" r="2.8" fill="#a84858" stroke="#b0c060" stroke-width="0.9"/>
<circle cx="484.8" cy="222.6" r="2.8" fill="#a84858" stroke="#b0c060" stroke-width="0.9"/>
<circle cx="484.8" cy="249.3" r="2.6" fill="#1830d0" stroke="#c8d860" stroke-width="1"/>
<circle cx="484.8" cy="276" r="2.8" fill="#a84858" stroke="#b0c060" stroke-width="0.9"/>
<circle cx="484.8" cy="302.7" r="2.6" fill="#1830d0" stroke="#c8d860" stroke-width="1"/>
<circle cx="511.5" cy="302.7" r="2.8" fill="#a84858" stroke="#b0c060" stroke-width="0.9"/>
<circle cx="538.2" cy="195.9" r="2.6" fill="#1830d0" stroke="#c8d860" stroke-width="1"/>
<circle cx="564.9" cy="195.9" r="2.8" fill="#a84858" stroke="#b0c060" stroke-width="0.9"/>
<circle cx="538.2" cy="302.7" r="2.6" fill="#1830d0" stroke="#c8d860" stroke-width="1"/>
<circle cx="564.9" cy="302.7" r="2.8" fill="#a84858" stroke="#b0c060" stroke-width="0.9"/>
<circle cx="591.6" cy="195.9" r="2.6" fill="#1830d0" stroke="#c8d860" stroke-width="1"/>
<circle cx="591.6" cy="249.3" r="2.6" fill="#1830d0" stroke="#c8d860" stroke-width="1"/>
<circle cx="591.6" cy="302.7" r="2.6" fill="#1830d0" stroke="#c8d860" stroke-width="1"/>
</g>
<circle cx="511.3" cy="249.3" r="7.2" fill="url(#gi2)"/>
<circle cx="538.2" cy="222.4" r="7.2" fill="url(#gi2)"/>
<circle cx="561.3" cy="249.3" r="7.2" fill="url(#gi2)"/>
<circle cx="538.2" cy="273.6" r="7.2" fill="url(#gi2)"/>
<circle cx="538.2" cy="249.3" r="8.2" fill="url(#gpb2)"/>
<circle cx="538.2" cy="249.3" r="1" fill="#2a2aa0"/>
<ellipse cx="548" cy="248.6" rx="22.2" ry="15.3" fill="none" stroke="#fff" stroke-width="2.6"/>
<clipPath id="ch"><rect x="482.1" y="335.3" width="107.6" height="105.5"/></clipPath>
<g clip-path="url(#ch)">
<rect x="482.1" y="335.3" width="107.6" height="105.5" fill="#0000f6"/>
<path d="M470.9 333.6L471.1 333.6Q477.97 329.77 480.7 322.4L480.7 320.1L484.9 320.1L484.9 322.4Q487.63 329.77 494.5 333.6L494.7 333.6L494.7 334.2L494.5 334.2Q487.63 338.03 484.9 345.4L484.9 347.7L480.7 347.7L480.7 345.4Q477.97 338.03 471.1 334.2L470.9 334.2ZM494.7 333.9C498.9 329.7 501.55 321.5 509.55 321.5C517.55 321.5 520.2 329.7 524.4 333.9C520.2 338.1 517.55 346.3 509.55 346.3C501.55 346.3 498.9 338.1 494.7 333.9ZM470.4 360.2a12.4 13 0 1 1 24.8 0a12.4 13 0 1 1 -24.8 0ZM470.9 386.2L471.1 386.2Q477.97 382.37 480.7 375L480.7 372.7L484.9 372.7L484.9 375Q487.63 382.37 494.5 386.2L494.7 386.2L494.7 386.8L494.5 386.8Q487.63 390.63 484.9 398L484.9 400.3L480.7 400.3L480.7 398Q477.97 390.63 471.1 386.8L470.9 386.8ZM494.7 386.5C498.9 382.3 501.55 374.1 509.55 374.1C517.55 374.1 520.2 382.3 524.4 386.5C520.2 390.7 517.55 398.9 509.55 398.9C501.55 398.9 498.9 390.7 494.7 386.5ZM470.4 412.8a12.4 13 0 1 1 24.8 0a12.4 13 0 1 1 -24.8 0ZM470.9 438.8L471.1 438.8Q477.97 434.97 480.7 427.6L480.7 425.3L484.9 425.3L484.9 427.6Q487.63 434.97 494.5 438.8L494.7 438.8L494.7 439.4L494.5 439.4Q487.63 443.23 484.9 450.6L484.9 452.9L480.7 452.9L480.7 450.6Q477.97 443.23 471.1 439.4L470.9 439.4ZM494.7 439.1C498.9 434.9 501.55 426.7 509.55 426.7C517.55 426.7 520.2 434.9 524.4 439.1C520.2 443.3 517.55 451.5 509.55 451.5C501.55 451.5 498.9 443.3 494.7 439.1ZM524.4 333.6L524.6 333.6Q531.47 329.77 534.2 322.4L534.2 320.1L538.4 320.1L538.4 322.4Q541.13 329.77 548 333.6L548.2 333.6L548.2 334.2L548 334.2Q541.13 338.03 538.4 345.4L538.4 347.7L534.2 347.7L534.2 345.4Q531.47 338.03 524.6 334.2L524.4 334.2ZM548.2 333.9C552.4 329.7 555.05 321.5 563.05 321.5C571.05 321.5 573.7 329.7 577.9 333.9C573.7 338.1 571.05 346.3 563.05 346.3C555.05 346.3 552.4 338.1 548.2 333.9ZM523.9 360.2a12.4 13 0 1 1 24.8 0a12.4 13 0 1 1 -24.8 0ZM524.4 386.2L524.6 386.2Q531.47 382.37 534.2 375L534.2 372.7L538.4 372.7L538.4 375Q541.13 382.37 548 386.2L548.2 386.2L548.2 386.8L548 386.8Q541.13 390.63 538.4 398L538.4 400.3L534.2 400.3L534.2 398Q531.47 390.63 524.6 386.8L524.4 386.8ZM548.2 386.5C552.4 382.3 555.05 374.1 563.05 374.1C571.05 374.1 573.7 382.3 577.9 386.5C573.7 390.7 571.05 398.9 563.05 398.9C555.05 398.9 552.4 390.7 548.2 386.5ZM523.9 412.8a12.4 13 0 1 1 24.8 0a12.4 13 0 1 1 -24.8 0ZM524.4 438.8L524.6 438.8Q531.47 434.97 534.2 427.6L534.2 425.3L538.4 425.3L538.4 427.6Q541.13 434.97 548 438.8L548.2 438.8L548.2 439.4L548 439.4Q541.13 443.23 538.4 450.6L538.4 452.9L534.2 452.9L534.2 450.6Q531.47 443.23 524.6 439.4L524.4 439.4ZM548.2 439.1C552.4 434.9 555.05 426.7 563.05 426.7C571.05 426.7 573.7 434.9 577.9 439.1C573.7 443.3 571.05 451.5 563.05 451.5C555.05 451.5 552.4 443.3 548.2 439.1ZM577.9 333.6L578.1 333.6Q584.97 329.77 587.7 322.4L587.7 320.1L591.9 320.1L591.9 322.4Q594.63 329.77 601.5 333.6L601.7 333.6L601.7 334.2L601.5 334.2Q594.63 338.03 591.9 345.4L591.9 347.7L587.7 347.7L587.7 345.4Q584.97 338.03 578.1 334.2L577.9 334.2ZM577.4 360.2a12.4 13 0 1 1 24.8 0a12.4 13 0 1 1 -24.8 0ZM577.9 386.2L578.1 386.2Q584.97 382.37 587.7 375L587.7 372.7L591.9 372.7L591.9 375Q594.63 382.37 601.5 386.2L601.7 386.2L601.7 386.8L601.5 386.8Q594.63 390.63 591.9 398L591.9 400.3L587.7 400.3L587.7 398Q584.97 390.63 578.1 386.8L577.9 386.8ZM577.4 412.8a12.4 13 0 1 1 24.8 0a12.4 13 0 1 1 -24.8 0ZM577.9 438.8L578.1 438.8Q584.97 434.97 587.7 427.6L587.7 425.3L591.9 425.3L591.9 427.6Q594.63 434.97 601.5 438.8L601.7 438.8L601.7 439.4L601.5 439.4Q594.63 443.23 591.9 450.6L591.9 452.9L587.7 452.9L587.7 450.6Q584.97 443.23 578.1 439.4L577.9 439.4Z" fill="none" stroke="#3aa8e8" stroke-width="3.4" stroke-linejoin="round"/>
<path d="M470.9 333.6L471.1 333.6Q477.97 329.77 480.7 322.4L480.7 320.1L484.9 320.1L484.9 322.4Q487.63 329.77 494.5 333.6L494.7 333.6L494.7 334.2L494.5 334.2Q487.63 338.03 484.9 345.4L484.9 347.7L480.7 347.7L480.7 345.4Q477.97 338.03 471.1 334.2L470.9 334.2ZM494.7 333.9C498.9 329.7 501.55 321.5 509.55 321.5C517.55 321.5 520.2 329.7 524.4 333.9C520.2 338.1 517.55 346.3 509.55 346.3C501.55 346.3 498.9 338.1 494.7 333.9ZM470.4 360.2a12.4 13 0 1 1 24.8 0a12.4 13 0 1 1 -24.8 0ZM470.9 386.2L471.1 386.2Q477.97 382.37 480.7 375L480.7 372.7L484.9 372.7L484.9 375Q487.63 382.37 494.5 386.2L494.7 386.2L494.7 386.8L494.5 386.8Q487.63 390.63 484.9 398L484.9 400.3L480.7 400.3L480.7 398Q477.97 390.63 471.1 386.8L470.9 386.8ZM494.7 386.5C498.9 382.3 501.55 374.1 509.55 374.1C517.55 374.1 520.2 382.3 524.4 386.5C520.2 390.7 517.55 398.9 509.55 398.9C501.55 398.9 498.9 390.7 494.7 386.5ZM470.4 412.8a12.4 13 0 1 1 24.8 0a12.4 13 0 1 1 -24.8 0ZM470.9 438.8L471.1 438.8Q477.97 434.97 480.7 427.6L480.7 425.3L484.9 425.3L484.9 427.6Q487.63 434.97 494.5 438.8L494.7 438.8L494.7 439.4L494.5 439.4Q487.63 443.23 484.9 450.6L484.9 452.9L480.7 452.9L480.7 450.6Q477.97 443.23 471.1 439.4L470.9 439.4ZM494.7 439.1C498.9 434.9 501.55 426.7 509.55 426.7C517.55 426.7 520.2 434.9 524.4 439.1C520.2 443.3 517.55 451.5 509.55 451.5C501.55 451.5 498.9 443.3 494.7 439.1ZM524.4 333.6L524.6 333.6Q531.47 329.77 534.2 322.4L534.2 320.1L538.4 320.1L538.4 322.4Q541.13 329.77 548 333.6L548.2 333.6L548.2 334.2L548 334.2Q541.13 338.03 538.4 345.4L538.4 347.7L534.2 347.7L534.2 345.4Q531.47 338.03 524.6 334.2L524.4 334.2ZM548.2 333.9C552.4 329.7 555.05 321.5 563.05 321.5C571.05 321.5 573.7 329.7 577.9 333.9C573.7 338.1 571.05 346.3 563.05 346.3C555.05 346.3 552.4 338.1 548.2 333.9ZM523.9 360.2a12.4 13 0 1 1 24.8 0a12.4 13 0 1 1 -24.8 0ZM524.4 386.2L524.6 386.2Q531.47 382.37 534.2 375L534.2 372.7L538.4 372.7L538.4 375Q541.13 382.37 548 386.2L548.2 386.2L548.2 386.8L548 386.8Q541.13 390.63 538.4 398L538.4 400.3L534.2 400.3L534.2 398Q531.47 390.63 524.6 386.8L524.4 386.8ZM548.2 386.5C552.4 382.3 555.05 374.1 563.05 374.1C571.05 374.1 573.7 382.3 577.9 386.5C573.7 390.7 571.05 398.9 563.05 398.9C555.05 398.9 552.4 390.7 548.2 386.5ZM523.9 412.8a12.4 13 0 1 1 24.8 0a12.4 13 0 1 1 -24.8 0ZM524.4 438.8L524.6 438.8Q531.47 434.97 534.2 427.6L534.2 425.3L538.4 425.3L538.4 427.6Q541.13 434.97 548 438.8L548.2 438.8L548.2 439.4L548 439.4Q541.13 443.23 538.4 450.6L538.4 452.9L534.2 452.9L534.2 450.6Q531.47 443.23 524.6 439.4L524.4 439.4ZM548.2 439.1C552.4 434.9 555.05 426.7 563.05 426.7C571.05 426.7 573.7 434.9 577.9 439.1C573.7 443.3 571.05 451.5 563.05 451.5C555.05 451.5 552.4 443.3 548.2 439.1ZM577.9 333.6L578.1 333.6Q584.97 329.77 587.7 322.4L587.7 320.1L591.9 320.1L591.9 322.4Q594.63 329.77 601.5 333.6L601.7 333.6L601.7 334.2L601.5 334.2Q594.63 338.03 591.9 345.4L591.9 347.7L587.7 347.7L587.7 345.4Q584.97 338.03 578.1 334.2L577.9 334.2ZM577.4 360.2a12.4 13 0 1 1 24.8 0a12.4 13 0 1 1 -24.8 0ZM577.9 386.2L578.1 386.2Q584.97 382.37 587.7 375L587.7 372.7L591.9 372.7L591.9 375Q594.63 382.37 601.5 386.2L601.7 386.2L601.7 386.8L601.5 386.8Q594.63 390.63 591.9 398L591.9 400.3L587.7 400.3L587.7 398Q584.97 390.63 578.1 386.8L577.9 386.8ZM577.4 412.8a12.4 13 0 1 1 24.8 0a12.4 13 0 1 1 -24.8 0ZM577.9 438.8L578.1 438.8Q584.97 434.97 587.7 427.6L587.7 425.3L591.9 425.3L591.9 427.6Q594.63 434.97 601.5 438.8L601.7 438.8L601.7 439.4L601.5 439.4Q594.63 443.23 591.9 450.6L591.9 452.9L587.7 452.9L587.7 450.6Q584.97 443.23 578.1 439.4L577.9 439.4Z" fill="none" stroke="#b8e070" stroke-width="2.2" stroke-linejoin="round"/>
<path d="M470.9 333.6L471.1 333.6Q477.97 329.77 480.7 322.4L480.7 320.1L484.9 320.1L484.9 322.4Q487.63 329.77 494.5 333.6L494.7 333.6L494.7 334.2L494.5 334.2Q487.63 338.03 484.9 345.4L484.9 347.7L480.7 347.7L480.7 345.4Q477.97 338.03 471.1 334.2L470.9 334.2ZM494.7 333.9C498.9 329.7 501.55 321.5 509.55 321.5C517.55 321.5 520.2 329.7 524.4 333.9C520.2 338.1 517.55 346.3 509.55 346.3C501.55 346.3 498.9 338.1 494.7 333.9ZM470.4 360.2a12.4 13 0 1 1 24.8 0a12.4 13 0 1 1 -24.8 0ZM470.9 386.2L471.1 386.2Q477.97 382.37 480.7 375L480.7 372.7L484.9 372.7L484.9 375Q487.63 382.37 494.5 386.2L494.7 386.2L494.7 386.8L494.5 386.8Q487.63 390.63 484.9 398L484.9 400.3L480.7 400.3L480.7 398Q477.97 390.63 471.1 386.8L470.9 386.8ZM494.7 386.5C498.9 382.3 501.55 374.1 509.55 374.1C517.55 374.1 520.2 382.3 524.4 386.5C520.2 390.7 517.55 398.9 509.55 398.9C501.55 398.9 498.9 390.7 494.7 386.5ZM470.4 412.8a12.4 13 0 1 1 24.8 0a12.4 13 0 1 1 -24.8 0ZM470.9 438.8L471.1 438.8Q477.97 434.97 480.7 427.6L480.7 425.3L484.9 425.3L484.9 427.6Q487.63 434.97 494.5 438.8L494.7 438.8L494.7 439.4L494.5 439.4Q487.63 443.23 484.9 450.6L484.9 452.9L480.7 452.9L480.7 450.6Q477.97 443.23 471.1 439.4L470.9 439.4ZM494.7 439.1C498.9 434.9 501.55 426.7 509.55 426.7C517.55 426.7 520.2 434.9 524.4 439.1C520.2 443.3 517.55 451.5 509.55 451.5C501.55 451.5 498.9 443.3 494.7 439.1ZM524.4 333.6L524.6 333.6Q531.47 329.77 534.2 322.4L534.2 320.1L538.4 320.1L538.4 322.4Q541.13 329.77 548 333.6L548.2 333.6L548.2 334.2L548 334.2Q541.13 338.03 538.4 345.4L538.4 347.7L534.2 347.7L534.2 345.4Q531.47 338.03 524.6 334.2L524.4 334.2ZM548.2 333.9C552.4 329.7 555.05 321.5 563.05 321.5C571.05 321.5 573.7 329.7 577.9 333.9C573.7 338.1 571.05 346.3 563.05 346.3C555.05 346.3 552.4 338.1 548.2 333.9ZM523.9 360.2a12.4 13 0 1 1 24.8 0a12.4 13 0 1 1 -24.8 0ZM524.4 386.2L524.6 386.2Q531.47 382.37 534.2 375L534.2 372.7L538.4 372.7L538.4 375Q541.13 382.37 548 386.2L548.2 386.2L548.2 386.8L548 386.8Q541.13 390.63 538.4 398L538.4 400.3L534.2 400.3L534.2 398Q531.47 390.63 524.6 386.8L524.4 386.8ZM548.2 386.5C552.4 382.3 555.05 374.1 563.05 374.1C571.05 374.1 573.7 382.3 577.9 386.5C573.7 390.7 571.05 398.9 563.05 398.9C555.05 398.9 552.4 390.7 548.2 386.5ZM523.9 412.8a12.4 13 0 1 1 24.8 0a12.4 13 0 1 1 -24.8 0ZM524.4 438.8L524.6 438.8Q531.47 434.97 534.2 427.6L534.2 425.3L538.4 425.3L538.4 427.6Q541.13 434.97 548 438.8L548.2 438.8L548.2 439.4L548 439.4Q541.13 443.23 538.4 450.6L538.4 452.9L534.2 452.9L534.2 450.6Q531.47 443.23 524.6 439.4L524.4 439.4ZM548.2 439.1C552.4 434.9 555.05 426.7 563.05 426.7C571.05 426.7 573.7 434.9 577.9 439.1C573.7 443.3 571.05 451.5 563.05 451.5C555.05 451.5 552.4 443.3 548.2 439.1ZM577.9 333.6L578.1 333.6Q584.97 329.77 587.7 322.4L587.7 320.1L591.9 320.1L591.9 322.4Q594.63 329.77 601.5 333.6L601.7 333.6L601.7 334.2L601.5 334.2Q594.63 338.03 591.9 345.4L591.9 347.7L587.7 347.7L587.7 345.4Q584.97 338.03 578.1 334.2L577.9 334.2ZM577.4 360.2a12.4 13 0 1 1 24.8 0a12.4 13 0 1 1 -24.8 0ZM577.9 386.2L578.1 386.2Q584.97 382.37 587.7 375L587.7 372.7L591.9 372.7L591.9 375Q594.63 382.37 601.5 386.2L601.7 386.2L601.7 386.8L601.5 386.8Q594.63 390.63 591.9 398L591.9 400.3L587.7 400.3L587.7 398Q584.97 390.63 578.1 386.8L577.9 386.8ZM577.4 412.8a12.4 13 0 1 1 24.8 0a12.4 13 0 1 1 -24.8 0ZM577.9 438.8L578.1 438.8Q584.97 434.97 587.7 427.6L587.7 425.3L591.9 425.3L591.9 427.6Q594.63 434.97 601.5 438.8L601.7 438.8L601.7 439.4L601.5 439.4Q594.63 443.23 591.9 450.6L591.9 452.9L587.7 452.9L587.7 450.6Q584.97 443.23 578.1 439.4L577.9 439.4Z" fill="#f60000"/>
<circle cx="482.8" cy="333.9" r="2.6" fill="#1830d0" stroke="#c8d860" stroke-width="1"/>
<circle cx="482.8" cy="360.2" r="2.8" fill="#a84858" stroke="#b0c060" stroke-width="0.9"/>
<circle cx="482.8" cy="386.5" r="2.6" fill="#1830d0" stroke="#c8d860" stroke-width="1"/>
<circle cx="482.8" cy="412.8" r="2.8" fill="#a84858" stroke="#b0c060" stroke-width="0.9"/>
<circle cx="482.8" cy="439.1" r="2.6" fill="#1830d0" stroke="#c8d860" stroke-width="1"/>
<circle cx="509.55" cy="439.1" r="2.8" fill="#a84858" stroke="#b0c060" stroke-width="0.9"/>
<circle cx="536.3" cy="333.9" r="2.6" fill="#1830d0" stroke="#c8d860" stroke-width="1"/>
<circle cx="536.3" cy="439.1" r="2.6" fill="#1830d0" stroke="#c8d860" stroke-width="1"/>
<circle cx="563.05" cy="439.1" r="2.8" fill="#a84858" stroke="#b0c060" stroke-width="0.9"/>
<circle cx="589.8" cy="333.9" r="2.6" fill="#1830d0" stroke="#c8d860" stroke-width="1"/>
<circle cx="589.8" cy="360.2" r="2.8" fill="#a84858" stroke="#b0c060" stroke-width="0.9"/>
<circle cx="589.8" cy="386.5" r="2.6" fill="#1830d0" stroke="#c8d860" stroke-width="1"/>
<circle cx="589.8" cy="412.8" r="2.8" fill="#a84858" stroke="#b0c060" stroke-width="0.9"/>
<circle cx="589.8" cy="439.1" r="2.6" fill="#1830d0" stroke="#c8d860" stroke-width="1"/>
</g>
<circle cx="509.8" cy="388.6" r="7.2" fill="url(#gi2)"/>
<circle cx="537.5" cy="361.9" r="7.2" fill="url(#gi2)"/>
<circle cx="560.4" cy="388.6" r="7.2" fill="url(#gi2)"/>
<circle cx="537.5" cy="412.4" r="7.2" fill="url(#gi2)"/>
<circle cx="536.3" cy="386.5" r="7.4" fill="url(#gpb2)"/>
<circle cx="536.3" cy="386.5" r="1" fill="#2a2aa0"/>
<ellipse cx="546.5" cy="386.3" rx="21.2" ry="15.6" fill="none" stroke="#fff" stroke-width="2.6"/>
</svg>
</body></html>
